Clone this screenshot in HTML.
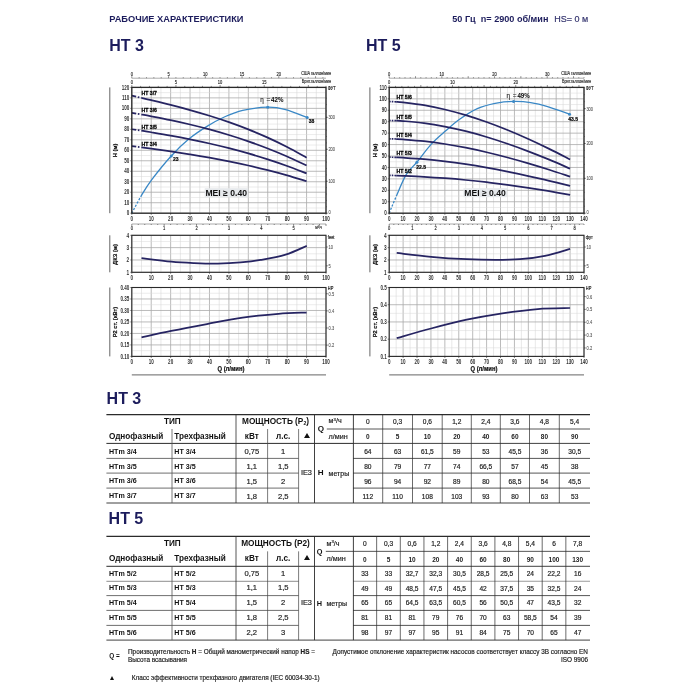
<!DOCTYPE html>
<html lang="ru"><head><meta charset="utf-8"><title>HT 3 / HT 5</title>
<style>
html,body{margin:0;padding:0;background:#fff;}
body{width:700px;height:700px;position:relative;overflow:hidden;font-family:'Liberation Sans', sans-serif;}
.t{position:absolute;white-space:nowrap;line-height:1;font-family:'Liberation Sans', sans-serif;}
.t sup{font-size:62%;vertical-align:baseline;position:relative;top:-0.62em;}
.t sub{font-size:62%;vertical-align:baseline;position:relative;top:0.2em;}
#pg{position:absolute;left:0;top:0;width:700px;height:700px;will-change:transform;filter:blur(0.4px);}
.l{position:absolute;}
.tri{position:absolute;width:0;height:0;border-left:3.0px solid transparent;border-right:3.0px solid transparent;border-bottom:5.8px solid #111;}
.tri.s{border-left-width:2.5px;border-right-width:2.5px;border-bottom-width:4.8px;}
svg{position:absolute;left:0;top:0;}
svg text{font-family:'Liberation Sans', sans-serif;}
</style></head><body><div id="pg">
<svg width="700" height="380" viewBox="0 0 700 380">
<rect x="131.8" y="87.4" width="194.2" height="125.8" fill="#fff"/>
<line x1="131.80" y1="87.40" x2="131.80" y2="213.20" stroke="#a9a9a9" stroke-width="0.8" />
<line x1="141.51" y1="87.40" x2="141.51" y2="213.20" stroke="#d8d8d8" stroke-width="0.6" />
<line x1="151.22" y1="87.40" x2="151.22" y2="213.20" stroke="#a9a9a9" stroke-width="0.8" />
<line x1="160.93" y1="87.40" x2="160.93" y2="213.20" stroke="#d8d8d8" stroke-width="0.6" />
<line x1="170.64" y1="87.40" x2="170.64" y2="213.20" stroke="#a9a9a9" stroke-width="0.8" />
<line x1="180.35" y1="87.40" x2="180.35" y2="213.20" stroke="#d8d8d8" stroke-width="0.6" />
<line x1="190.06" y1="87.40" x2="190.06" y2="213.20" stroke="#a9a9a9" stroke-width="0.8" />
<line x1="199.77" y1="87.40" x2="199.77" y2="213.20" stroke="#d8d8d8" stroke-width="0.6" />
<line x1="209.48" y1="87.40" x2="209.48" y2="213.20" stroke="#a9a9a9" stroke-width="0.8" />
<line x1="219.19" y1="87.40" x2="219.19" y2="213.20" stroke="#d8d8d8" stroke-width="0.6" />
<line x1="228.90" y1="87.40" x2="228.90" y2="213.20" stroke="#a9a9a9" stroke-width="0.8" />
<line x1="238.61" y1="87.40" x2="238.61" y2="213.20" stroke="#d8d8d8" stroke-width="0.6" />
<line x1="248.32" y1="87.40" x2="248.32" y2="213.20" stroke="#a9a9a9" stroke-width="0.8" />
<line x1="258.03" y1="87.40" x2="258.03" y2="213.20" stroke="#d8d8d8" stroke-width="0.6" />
<line x1="267.74" y1="87.40" x2="267.74" y2="213.20" stroke="#a9a9a9" stroke-width="0.8" />
<line x1="277.45" y1="87.40" x2="277.45" y2="213.20" stroke="#d8d8d8" stroke-width="0.6" />
<line x1="287.16" y1="87.40" x2="287.16" y2="213.20" stroke="#a9a9a9" stroke-width="0.8" />
<line x1="296.87" y1="87.40" x2="296.87" y2="213.20" stroke="#d8d8d8" stroke-width="0.6" />
<line x1="306.58" y1="87.40" x2="306.58" y2="213.20" stroke="#a9a9a9" stroke-width="0.8" />
<line x1="316.29" y1="87.40" x2="316.29" y2="213.20" stroke="#d8d8d8" stroke-width="0.6" />
<line x1="326.00" y1="87.40" x2="326.00" y2="213.20" stroke="#a9a9a9" stroke-width="0.8" />
<line x1="131.80" y1="213.20" x2="326.00" y2="213.20" stroke="#a9a9a9" stroke-width="0.8" />
<line x1="131.80" y1="207.96" x2="326.00" y2="207.96" stroke="#d8d8d8" stroke-width="0.5" />
<line x1="131.80" y1="202.72" x2="326.00" y2="202.72" stroke="#a9a9a9" stroke-width="0.8" />
<line x1="131.80" y1="197.47" x2="326.00" y2="197.47" stroke="#d8d8d8" stroke-width="0.5" />
<line x1="131.80" y1="192.23" x2="326.00" y2="192.23" stroke="#a9a9a9" stroke-width="0.8" />
<line x1="131.80" y1="186.99" x2="326.00" y2="186.99" stroke="#d8d8d8" stroke-width="0.5" />
<line x1="131.80" y1="181.75" x2="326.00" y2="181.75" stroke="#a9a9a9" stroke-width="0.8" />
<line x1="131.80" y1="176.51" x2="326.00" y2="176.51" stroke="#d8d8d8" stroke-width="0.5" />
<line x1="131.80" y1="171.27" x2="326.00" y2="171.27" stroke="#a9a9a9" stroke-width="0.8" />
<line x1="131.80" y1="166.02" x2="326.00" y2="166.02" stroke="#d8d8d8" stroke-width="0.5" />
<line x1="131.80" y1="160.78" x2="326.00" y2="160.78" stroke="#a9a9a9" stroke-width="0.8" />
<line x1="131.80" y1="155.54" x2="326.00" y2="155.54" stroke="#d8d8d8" stroke-width="0.5" />
<line x1="131.80" y1="150.30" x2="326.00" y2="150.30" stroke="#a9a9a9" stroke-width="0.8" />
<line x1="131.80" y1="145.06" x2="326.00" y2="145.06" stroke="#d8d8d8" stroke-width="0.5" />
<line x1="131.80" y1="139.82" x2="326.00" y2="139.82" stroke="#a9a9a9" stroke-width="0.8" />
<line x1="131.80" y1="134.57" x2="326.00" y2="134.57" stroke="#d8d8d8" stroke-width="0.5" />
<line x1="131.80" y1="129.33" x2="326.00" y2="129.33" stroke="#a9a9a9" stroke-width="0.8" />
<line x1="131.80" y1="124.09" x2="326.00" y2="124.09" stroke="#d8d8d8" stroke-width="0.5" />
<line x1="131.80" y1="118.85" x2="326.00" y2="118.85" stroke="#a9a9a9" stroke-width="0.8" />
<line x1="131.80" y1="113.61" x2="326.00" y2="113.61" stroke="#d8d8d8" stroke-width="0.5" />
<line x1="131.80" y1="108.37" x2="326.00" y2="108.37" stroke="#a9a9a9" stroke-width="0.8" />
<line x1="131.80" y1="103.12" x2="326.00" y2="103.12" stroke="#d8d8d8" stroke-width="0.5" />
<line x1="131.80" y1="97.88" x2="326.00" y2="97.88" stroke="#a9a9a9" stroke-width="0.8" />
<line x1="131.80" y1="92.64" x2="326.00" y2="92.64" stroke="#d8d8d8" stroke-width="0.5" />
<line x1="131.80" y1="87.40" x2="326.00" y2="87.40" stroke="#a9a9a9" stroke-width="0.8" />
<path d="M131.80,213.20 C133.42,210.23 138.21,200.93 141.51,195.38 C144.81,189.82 146.66,186.43 151.61,179.86 C156.56,173.29 164.98,162.79 171.22,155.96 C177.47,149.13 183.13,143.80 189.09,138.87 C195.04,133.95 201.00,130.08 206.96,126.40 C212.91,122.71 218.87,119.43 224.82,116.75 C230.78,114.08 235.54,111.95 242.69,110.36 C249.84,108.77 260.59,107.34 267.74,107.21 C274.89,107.09 279.04,107.91 285.61,109.62 C292.18,111.34 303.57,116.18 307.16,117.49" fill="none" stroke="#3a88c6" stroke-width="1.3" stroke-dasharray="2.2 1.5 2.2 1.5 2.2 1.5 2.2 1.5 2.2 1.5 2000" />
<path d="M131.80,146.06 C133.42,146.27 139.89,147.10 141.51,147.31" fill="none" stroke="#262462" stroke-width="1.7" stroke-dasharray="4.5 1.6 1.6 1.6"/>
<path d="M141.51,147.31 C143.13,147.53 146.37,147.93 151.22,148.60 C156.08,149.27 164.17,150.38 170.64,151.34 C177.11,152.30 183.59,153.29 190.06,154.34 C196.53,155.39 203.01,156.49 209.48,157.66 C215.95,158.84 222.43,160.06 228.90,161.37 C235.37,162.68 241.85,164.05 248.32,165.52 C254.79,166.99 261.27,168.53 267.74,170.18 C274.21,171.83 280.69,173.56 287.16,175.40 C293.63,177.25 303.34,180.28 306.58,181.26" fill="none" stroke="#262462" stroke-width="1.75"/>
<path d="M131.80,129.22 C133.42,129.46 139.89,130.46 141.51,130.70" fill="none" stroke="#262462" stroke-width="1.7" stroke-dasharray="4.5 1.6 1.6 1.6"/>
<path d="M141.51,130.70 C143.13,130.96 146.37,131.44 151.22,132.26 C156.08,133.08 164.17,134.43 170.64,135.61 C177.11,136.79 183.59,138.03 190.06,139.34 C196.53,140.66 203.01,142.04 209.48,143.51 C215.95,144.99 222.43,146.54 228.90,148.20 C235.37,149.86 241.85,151.60 248.32,153.46 C254.79,155.32 261.27,157.28 267.74,159.37 C274.21,161.45 280.69,163.65 287.16,165.99 C293.63,168.32 303.34,172.15 306.58,173.38" fill="none" stroke="#262462" stroke-width="1.75"/>
<path d="M131.80,112.84 C133.42,113.12 139.89,114.25 141.51,114.53" fill="none" stroke="#262462" stroke-width="1.7" stroke-dasharray="4.5 1.6 1.6 1.6"/>
<path d="M141.51,114.53 C143.13,114.82 146.37,115.37 151.22,116.31 C156.08,117.25 164.17,118.80 170.64,120.17 C177.11,121.54 183.59,122.98 190.06,124.52 C196.53,126.07 203.01,127.69 209.48,129.44 C215.95,131.19 222.43,133.03 228.90,135.01 C235.37,136.99 241.85,139.08 248.32,141.32 C254.79,143.56 261.27,145.93 267.74,148.46 C274.21,150.99 280.69,153.66 287.16,156.51 C293.63,159.36 303.34,164.06 306.58,165.56" fill="none" stroke="#262462" stroke-width="1.75"/>
<path d="M131.80,95.70 C133.42,96.07 139.89,97.56 141.51,97.93" fill="none" stroke="#262462" stroke-width="1.7" stroke-dasharray="4.5 1.6 1.6 1.6"/>
<path d="M141.51,97.93 C143.13,98.31 146.37,99.03 151.22,100.20 C156.08,101.37 164.17,103.30 170.64,104.95 C177.11,106.60 183.59,108.29 190.06,110.09 C196.53,111.90 203.01,113.77 209.48,115.78 C215.95,117.80 222.43,119.90 228.90,122.17 C235.37,124.44 241.85,126.83 248.32,129.41 C254.79,131.99 261.27,134.70 267.74,137.64 C274.21,140.58 280.69,143.68 287.16,147.02 C293.63,150.37 303.34,155.92 306.58,157.70" fill="none" stroke="#262462" stroke-width="1.75"/>
<rect x="131.80" y="87.40" width="194.20" height="125.80" fill="none" stroke="#2a2a2a" stroke-width="1.3"/>
<circle cx="171.22" cy="155.96" r="1.5" fill="#3a88c6"/>
<text transform="translate(173.02,161.36) scale(0.95,1)" font-size="5.3" text-anchor="start" font-weight="bold" fill="#000" stroke="#000" stroke-width="0.2" >23</text>
<circle cx="267.74" cy="107.21" r="1.5" fill="#3a88c6"/>
<circle cx="307.16" cy="117.49" r="1.5" fill="#3a88c6"/>
<text transform="translate(308.66,122.89) scale(0.95,1)" font-size="5.3" text-anchor="start" font-weight="bold" fill="#000" stroke="#000" stroke-width="0.2" >38</text>
<text transform="translate(141.50,145.51) scale(0.86,1)" font-size="6.0" text-anchor="start" font-weight="bold" fill="#000" stroke="#000" stroke-width="0.28" >HT 3/4</text>
<text transform="translate(141.50,128.73) scale(0.86,1)" font-size="6.0" text-anchor="start" font-weight="bold" fill="#000" stroke="#000" stroke-width="0.28" >HT 3/5</text>
<text transform="translate(141.50,111.96) scale(0.86,1)" font-size="6.0" text-anchor="start" font-weight="bold" fill="#000" stroke="#000" stroke-width="0.28" >HT 3/6</text>
<text transform="translate(141.50,95.19) scale(0.86,1)" font-size="6.0" text-anchor="start" font-weight="bold" fill="#000" stroke="#000" stroke-width="0.28" >HT 3/7</text>
<rect x="204.7" y="188.2" width="43.5" height="9" fill="#e6e9ec"/>
<text transform="translate(226.20,195.60) scale(1.0,1)" font-size="8.6" text-anchor="middle" font-weight="bold" fill="#111"  >MEI ≥ 0.40</text>
<text transform="translate(260.30,102.40) scale(0.9,1)" font-size="7.0" text-anchor="start" font-weight="normal" fill="#222" stroke="#222" stroke-width="0.12" >η</text>
<text transform="translate(266.50,102.10) scale(1.0,1)" font-size="6.6" text-anchor="start" font-weight="normal" fill="#222" stroke="#222" stroke-width="0.12" >=</text>
<text transform="translate(271.10,102.40) scale(0.88,1)" font-size="7.0" text-anchor="start" font-weight="bold" fill="#111" stroke="#111" stroke-width="0.05" >42%</text>
<text transform="translate(129.40,215.30) scale(0.7,1)" font-size="6.5" text-anchor="end" font-weight="bold" fill="#333"  >0</text>
<line x1="130.30" y1="213.20" x2="131.80" y2="213.20" stroke="#2a2a2a" stroke-width="0.6" />
<text transform="translate(129.40,204.82) scale(0.7,1)" font-size="6.5" text-anchor="end" font-weight="bold" fill="#333"  >10</text>
<line x1="130.30" y1="202.72" x2="131.80" y2="202.72" stroke="#2a2a2a" stroke-width="0.6" />
<text transform="translate(129.40,194.33) scale(0.7,1)" font-size="6.5" text-anchor="end" font-weight="bold" fill="#333"  >20</text>
<line x1="130.30" y1="192.23" x2="131.80" y2="192.23" stroke="#2a2a2a" stroke-width="0.6" />
<text transform="translate(129.40,183.85) scale(0.7,1)" font-size="6.5" text-anchor="end" font-weight="bold" fill="#333"  >30</text>
<line x1="130.30" y1="181.75" x2="131.80" y2="181.75" stroke="#2a2a2a" stroke-width="0.6" />
<text transform="translate(129.40,173.37) scale(0.7,1)" font-size="6.5" text-anchor="end" font-weight="bold" fill="#333"  >40</text>
<line x1="130.30" y1="171.27" x2="131.80" y2="171.27" stroke="#2a2a2a" stroke-width="0.6" />
<text transform="translate(129.40,162.88) scale(0.7,1)" font-size="6.5" text-anchor="end" font-weight="bold" fill="#333"  >50</text>
<line x1="130.30" y1="160.78" x2="131.80" y2="160.78" stroke="#2a2a2a" stroke-width="0.6" />
<text transform="translate(129.40,152.40) scale(0.7,1)" font-size="6.5" text-anchor="end" font-weight="bold" fill="#333"  >60</text>
<line x1="130.30" y1="150.30" x2="131.80" y2="150.30" stroke="#2a2a2a" stroke-width="0.6" />
<text transform="translate(129.40,141.92) scale(0.7,1)" font-size="6.5" text-anchor="end" font-weight="bold" fill="#333"  >70</text>
<line x1="130.30" y1="139.82" x2="131.80" y2="139.82" stroke="#2a2a2a" stroke-width="0.6" />
<text transform="translate(129.40,131.43) scale(0.7,1)" font-size="6.5" text-anchor="end" font-weight="bold" fill="#333"  >80</text>
<line x1="130.30" y1="129.33" x2="131.80" y2="129.33" stroke="#2a2a2a" stroke-width="0.6" />
<text transform="translate(129.40,120.95) scale(0.7,1)" font-size="6.5" text-anchor="end" font-weight="bold" fill="#333"  >90</text>
<line x1="130.30" y1="118.85" x2="131.80" y2="118.85" stroke="#2a2a2a" stroke-width="0.6" />
<text transform="translate(129.40,110.47) scale(0.7,1)" font-size="6.5" text-anchor="end" font-weight="bold" fill="#333"  >100</text>
<line x1="130.30" y1="108.37" x2="131.80" y2="108.37" stroke="#2a2a2a" stroke-width="0.6" />
<text transform="translate(129.40,99.98) scale(0.7,1)" font-size="6.5" text-anchor="end" font-weight="bold" fill="#333"  >110</text>
<line x1="130.30" y1="97.88" x2="131.80" y2="97.88" stroke="#2a2a2a" stroke-width="0.6" />
<text transform="translate(129.40,89.50) scale(0.7,1)" font-size="6.5" text-anchor="end" font-weight="bold" fill="#333"  >120</text>
<line x1="130.30" y1="87.40" x2="131.80" y2="87.40" stroke="#2a2a2a" stroke-width="0.6" />
<text transform="translate(131.80,220.70) scale(0.7,1)" font-size="6.5" text-anchor="middle" font-weight="bold" fill="#333"  >0</text>
<line x1="131.80" y1="213.20" x2="131.80" y2="214.80" stroke="#2a2a2a" stroke-width="0.6" />
<text transform="translate(151.22,220.70) scale(0.7,1)" font-size="6.5" text-anchor="middle" font-weight="bold" fill="#333"  >10</text>
<line x1="151.22" y1="213.20" x2="151.22" y2="214.80" stroke="#2a2a2a" stroke-width="0.6" />
<text transform="translate(170.64,220.70) scale(0.7,1)" font-size="6.5" text-anchor="middle" font-weight="bold" fill="#333"  >20</text>
<line x1="170.64" y1="213.20" x2="170.64" y2="214.80" stroke="#2a2a2a" stroke-width="0.6" />
<text transform="translate(190.06,220.70) scale(0.7,1)" font-size="6.5" text-anchor="middle" font-weight="bold" fill="#333"  >30</text>
<line x1="190.06" y1="213.20" x2="190.06" y2="214.80" stroke="#2a2a2a" stroke-width="0.6" />
<text transform="translate(209.48,220.70) scale(0.7,1)" font-size="6.5" text-anchor="middle" font-weight="bold" fill="#333"  >40</text>
<line x1="209.48" y1="213.20" x2="209.48" y2="214.80" stroke="#2a2a2a" stroke-width="0.6" />
<text transform="translate(228.90,220.70) scale(0.7,1)" font-size="6.5" text-anchor="middle" font-weight="bold" fill="#333"  >50</text>
<line x1="228.90" y1="213.20" x2="228.90" y2="214.80" stroke="#2a2a2a" stroke-width="0.6" />
<text transform="translate(248.32,220.70) scale(0.7,1)" font-size="6.5" text-anchor="middle" font-weight="bold" fill="#333"  >60</text>
<line x1="248.32" y1="213.20" x2="248.32" y2="214.80" stroke="#2a2a2a" stroke-width="0.6" />
<text transform="translate(267.74,220.70) scale(0.7,1)" font-size="6.5" text-anchor="middle" font-weight="bold" fill="#333"  >70</text>
<line x1="267.74" y1="213.20" x2="267.74" y2="214.80" stroke="#2a2a2a" stroke-width="0.6" />
<text transform="translate(287.16,220.70) scale(0.7,1)" font-size="6.5" text-anchor="middle" font-weight="bold" fill="#333"  >80</text>
<line x1="287.16" y1="213.20" x2="287.16" y2="214.80" stroke="#2a2a2a" stroke-width="0.6" />
<text transform="translate(306.58,220.70) scale(0.7,1)" font-size="6.5" text-anchor="middle" font-weight="bold" fill="#333"  >90</text>
<line x1="306.58" y1="213.20" x2="306.58" y2="214.80" stroke="#2a2a2a" stroke-width="0.6" />
<text transform="translate(326.00,220.70) scale(0.7,1)" font-size="6.5" text-anchor="middle" font-weight="bold" fill="#333"  >100</text>
<line x1="326.00" y1="213.20" x2="326.00" y2="214.80" stroke="#2a2a2a" stroke-width="0.6" />
<line x1="326.00" y1="213.20" x2="327.80" y2="213.20" stroke="#2a2a2a" stroke-width="0.6" />
<text transform="translate(328.40,213.80) scale(0.7,1)" font-size="5.7" text-anchor="start" font-weight="normal" fill="#555" stroke="#555" stroke-width="0.1" >0</text>
<line x1="326.00" y1="181.25" x2="327.80" y2="181.25" stroke="#2a2a2a" stroke-width="0.6" />
<text transform="translate(328.40,183.25) scale(0.7,1)" font-size="5.7" text-anchor="start" font-weight="normal" fill="#555" stroke="#555" stroke-width="0.1" >100</text>
<line x1="326.00" y1="149.29" x2="327.80" y2="149.29" stroke="#2a2a2a" stroke-width="0.6" />
<text transform="translate(328.40,151.29) scale(0.7,1)" font-size="5.7" text-anchor="start" font-weight="normal" fill="#555" stroke="#555" stroke-width="0.1" >200</text>
<line x1="326.00" y1="117.34" x2="327.80" y2="117.34" stroke="#2a2a2a" stroke-width="0.6" />
<text transform="translate(328.40,119.34) scale(0.7,1)" font-size="5.7" text-anchor="start" font-weight="normal" fill="#555" stroke="#555" stroke-width="0.1" >300</text>
<line x1="326.00" y1="213.20" x2="327.00" y2="213.20" stroke="#2a2a2a" stroke-width="0.4" />
<line x1="326.00" y1="206.81" x2="327.00" y2="206.81" stroke="#2a2a2a" stroke-width="0.4" />
<line x1="326.00" y1="200.42" x2="327.00" y2="200.42" stroke="#2a2a2a" stroke-width="0.4" />
<line x1="326.00" y1="194.03" x2="327.00" y2="194.03" stroke="#2a2a2a" stroke-width="0.4" />
<line x1="326.00" y1="187.64" x2="327.00" y2="187.64" stroke="#2a2a2a" stroke-width="0.4" />
<line x1="326.00" y1="181.25" x2="327.00" y2="181.25" stroke="#2a2a2a" stroke-width="0.4" />
<line x1="326.00" y1="174.86" x2="327.00" y2="174.86" stroke="#2a2a2a" stroke-width="0.4" />
<line x1="326.00" y1="168.47" x2="327.00" y2="168.47" stroke="#2a2a2a" stroke-width="0.4" />
<line x1="326.00" y1="162.07" x2="327.00" y2="162.07" stroke="#2a2a2a" stroke-width="0.4" />
<line x1="326.00" y1="155.68" x2="327.00" y2="155.68" stroke="#2a2a2a" stroke-width="0.4" />
<line x1="326.00" y1="149.29" x2="327.00" y2="149.29" stroke="#2a2a2a" stroke-width="0.4" />
<line x1="326.00" y1="142.90" x2="327.00" y2="142.90" stroke="#2a2a2a" stroke-width="0.4" />
<line x1="326.00" y1="136.51" x2="327.00" y2="136.51" stroke="#2a2a2a" stroke-width="0.4" />
<line x1="326.00" y1="130.12" x2="327.00" y2="130.12" stroke="#2a2a2a" stroke-width="0.4" />
<line x1="326.00" y1="123.73" x2="327.00" y2="123.73" stroke="#2a2a2a" stroke-width="0.4" />
<line x1="326.00" y1="117.34" x2="327.00" y2="117.34" stroke="#2a2a2a" stroke-width="0.4" />
<line x1="326.00" y1="110.95" x2="327.00" y2="110.95" stroke="#2a2a2a" stroke-width="0.4" />
<line x1="326.00" y1="104.56" x2="327.00" y2="104.56" stroke="#2a2a2a" stroke-width="0.4" />
<line x1="326.00" y1="98.17" x2="327.00" y2="98.17" stroke="#2a2a2a" stroke-width="0.4" />
<text transform="translate(327.80,89.80) scale(0.8,1)" font-size="5.0" text-anchor="start" font-weight="normal" fill="#222" stroke="#222" stroke-width="0.18" >ФУТ</text>
<line x1="131.80" y1="78.20" x2="326.00" y2="78.20" stroke="#555" stroke-width="0.5" />
<line x1="131.80" y1="76.20" x2="131.80" y2="78.20" stroke="#333" stroke-width="0.55" />
<line x1="139.15" y1="77.20" x2="139.15" y2="78.20" stroke="#333" stroke-width="0.55" />
<line x1="146.50" y1="77.20" x2="146.50" y2="78.20" stroke="#333" stroke-width="0.55" />
<line x1="153.85" y1="77.20" x2="153.85" y2="78.20" stroke="#333" stroke-width="0.55" />
<line x1="161.20" y1="77.20" x2="161.20" y2="78.20" stroke="#333" stroke-width="0.55" />
<line x1="168.55" y1="76.20" x2="168.55" y2="78.20" stroke="#333" stroke-width="0.55" />
<line x1="175.90" y1="77.20" x2="175.90" y2="78.20" stroke="#333" stroke-width="0.55" />
<line x1="183.25" y1="77.20" x2="183.25" y2="78.20" stroke="#333" stroke-width="0.55" />
<line x1="190.60" y1="77.20" x2="190.60" y2="78.20" stroke="#333" stroke-width="0.55" />
<line x1="197.95" y1="77.20" x2="197.95" y2="78.20" stroke="#333" stroke-width="0.55" />
<line x1="205.30" y1="76.20" x2="205.30" y2="78.20" stroke="#333" stroke-width="0.55" />
<line x1="212.66" y1="77.20" x2="212.66" y2="78.20" stroke="#333" stroke-width="0.55" />
<line x1="220.01" y1="77.20" x2="220.01" y2="78.20" stroke="#333" stroke-width="0.55" />
<line x1="227.36" y1="77.20" x2="227.36" y2="78.20" stroke="#333" stroke-width="0.55" />
<line x1="234.71" y1="77.20" x2="234.71" y2="78.20" stroke="#333" stroke-width="0.55" />
<line x1="242.06" y1="76.20" x2="242.06" y2="78.20" stroke="#333" stroke-width="0.55" />
<line x1="249.41" y1="77.20" x2="249.41" y2="78.20" stroke="#333" stroke-width="0.55" />
<line x1="256.76" y1="77.20" x2="256.76" y2="78.20" stroke="#333" stroke-width="0.55" />
<line x1="264.11" y1="77.20" x2="264.11" y2="78.20" stroke="#333" stroke-width="0.55" />
<line x1="271.46" y1="77.20" x2="271.46" y2="78.20" stroke="#333" stroke-width="0.55" />
<line x1="278.81" y1="76.20" x2="278.81" y2="78.20" stroke="#333" stroke-width="0.55" />
<line x1="286.16" y1="77.20" x2="286.16" y2="78.20" stroke="#333" stroke-width="0.55" />
<line x1="293.51" y1="77.20" x2="293.51" y2="78.20" stroke="#333" stroke-width="0.55" />
<line x1="300.86" y1="77.20" x2="300.86" y2="78.20" stroke="#333" stroke-width="0.55" />
<line x1="308.21" y1="77.20" x2="308.21" y2="78.20" stroke="#333" stroke-width="0.55" />
<line x1="315.56" y1="76.20" x2="315.56" y2="78.20" stroke="#333" stroke-width="0.55" />
<line x1="322.91" y1="77.20" x2="322.91" y2="78.20" stroke="#333" stroke-width="0.55" />
<text transform="translate(131.80,75.80) scale(0.7,1)" font-size="5.8" text-anchor="middle" font-weight="normal" fill="#222" stroke="#222" stroke-width="0.15" >0</text>
<text transform="translate(168.55,75.80) scale(0.7,1)" font-size="5.8" text-anchor="middle" font-weight="normal" fill="#222" stroke="#222" stroke-width="0.15" >5</text>
<text transform="translate(205.30,75.80) scale(0.7,1)" font-size="5.8" text-anchor="middle" font-weight="normal" fill="#222" stroke="#222" stroke-width="0.15" >10</text>
<text transform="translate(242.06,75.80) scale(0.7,1)" font-size="5.8" text-anchor="middle" font-weight="normal" fill="#222" stroke="#222" stroke-width="0.15" >15</text>
<text transform="translate(278.81,75.80) scale(0.7,1)" font-size="5.8" text-anchor="middle" font-weight="normal" fill="#222" stroke="#222" stroke-width="0.15" >20</text>
<line x1="131.80" y1="85.00" x2="131.80" y2="87.20" stroke="#333" stroke-width="0.55" />
<line x1="140.63" y1="85.90" x2="140.63" y2="87.20" stroke="#333" stroke-width="0.55" />
<line x1="149.46" y1="85.90" x2="149.46" y2="87.20" stroke="#333" stroke-width="0.55" />
<line x1="158.28" y1="85.90" x2="158.28" y2="87.20" stroke="#333" stroke-width="0.55" />
<line x1="167.11" y1="85.90" x2="167.11" y2="87.20" stroke="#333" stroke-width="0.55" />
<line x1="175.94" y1="85.00" x2="175.94" y2="87.20" stroke="#333" stroke-width="0.55" />
<line x1="184.77" y1="85.90" x2="184.77" y2="87.20" stroke="#333" stroke-width="0.55" />
<line x1="193.60" y1="85.90" x2="193.60" y2="87.20" stroke="#333" stroke-width="0.55" />
<line x1="202.43" y1="85.90" x2="202.43" y2="87.20" stroke="#333" stroke-width="0.55" />
<line x1="211.25" y1="85.90" x2="211.25" y2="87.20" stroke="#333" stroke-width="0.55" />
<line x1="220.08" y1="85.00" x2="220.08" y2="87.20" stroke="#333" stroke-width="0.55" />
<line x1="228.91" y1="85.90" x2="228.91" y2="87.20" stroke="#333" stroke-width="0.55" />
<line x1="237.74" y1="85.90" x2="237.74" y2="87.20" stroke="#333" stroke-width="0.55" />
<line x1="246.57" y1="85.90" x2="246.57" y2="87.20" stroke="#333" stroke-width="0.55" />
<line x1="255.40" y1="85.90" x2="255.40" y2="87.20" stroke="#333" stroke-width="0.55" />
<line x1="264.22" y1="85.00" x2="264.22" y2="87.20" stroke="#333" stroke-width="0.55" />
<line x1="273.05" y1="85.90" x2="273.05" y2="87.20" stroke="#333" stroke-width="0.55" />
<line x1="281.88" y1="85.90" x2="281.88" y2="87.20" stroke="#333" stroke-width="0.55" />
<line x1="290.71" y1="85.90" x2="290.71" y2="87.20" stroke="#333" stroke-width="0.55" />
<line x1="299.54" y1="85.90" x2="299.54" y2="87.20" stroke="#333" stroke-width="0.55" />
<line x1="308.37" y1="85.00" x2="308.37" y2="87.20" stroke="#333" stroke-width="0.55" />
<line x1="317.19" y1="85.90" x2="317.19" y2="87.20" stroke="#333" stroke-width="0.55" />
<line x1="326.02" y1="85.90" x2="326.02" y2="87.20" stroke="#333" stroke-width="0.55" />
<text transform="translate(131.80,84.30) scale(0.7,1)" font-size="5.8" text-anchor="middle" font-weight="normal" fill="#222" stroke="#222" stroke-width="0.15" >0</text>
<text transform="translate(175.94,84.30) scale(0.7,1)" font-size="5.8" text-anchor="middle" font-weight="normal" fill="#222" stroke="#222" stroke-width="0.15" >5</text>
<text transform="translate(220.08,84.30) scale(0.7,1)" font-size="5.8" text-anchor="middle" font-weight="normal" fill="#222" stroke="#222" stroke-width="0.15" >10</text>
<text transform="translate(264.22,84.30) scale(0.7,1)" font-size="5.8" text-anchor="middle" font-weight="normal" fill="#222" stroke="#222" stroke-width="0.15" >15</text>
<text transform="translate(331.00,74.50) scale(0.78,1)" font-size="4.9" text-anchor="end" font-weight="normal" fill="#333" stroke="#333" stroke-width="0.18" >США галлон/мин</text>
<text transform="translate(331.00,83.00) scale(0.78,1)" font-size="4.9" text-anchor="end" font-weight="normal" fill="#333" stroke="#333" stroke-width="0.18" >Брит.галлон/мин</text>
<line x1="131.80" y1="224.00" x2="326.00" y2="224.00" stroke="#555" stroke-width="0.5" />
<line x1="131.80" y1="224.00" x2="131.80" y2="226.00" stroke="#333" stroke-width="0.55" />
<line x1="138.27" y1="224.00" x2="138.27" y2="225.00" stroke="#333" stroke-width="0.55" />
<line x1="144.75" y1="224.00" x2="144.75" y2="225.00" stroke="#333" stroke-width="0.55" />
<line x1="151.22" y1="224.00" x2="151.22" y2="225.00" stroke="#333" stroke-width="0.55" />
<line x1="157.69" y1="224.00" x2="157.69" y2="225.00" stroke="#333" stroke-width="0.55" />
<line x1="164.17" y1="224.00" x2="164.17" y2="226.00" stroke="#333" stroke-width="0.55" />
<line x1="170.64" y1="224.00" x2="170.64" y2="225.00" stroke="#333" stroke-width="0.55" />
<line x1="177.11" y1="224.00" x2="177.11" y2="225.00" stroke="#333" stroke-width="0.55" />
<line x1="183.59" y1="224.00" x2="183.59" y2="225.00" stroke="#333" stroke-width="0.55" />
<line x1="190.06" y1="224.00" x2="190.06" y2="225.00" stroke="#333" stroke-width="0.55" />
<line x1="196.53" y1="224.00" x2="196.53" y2="226.00" stroke="#333" stroke-width="0.55" />
<line x1="203.01" y1="224.00" x2="203.01" y2="225.00" stroke="#333" stroke-width="0.55" />
<line x1="209.48" y1="224.00" x2="209.48" y2="225.00" stroke="#333" stroke-width="0.55" />
<line x1="215.96" y1="224.00" x2="215.96" y2="225.00" stroke="#333" stroke-width="0.55" />
<line x1="222.43" y1="224.00" x2="222.43" y2="225.00" stroke="#333" stroke-width="0.55" />
<line x1="228.90" y1="224.00" x2="228.90" y2="226.00" stroke="#333" stroke-width="0.55" />
<line x1="235.38" y1="224.00" x2="235.38" y2="225.00" stroke="#333" stroke-width="0.55" />
<line x1="241.85" y1="224.00" x2="241.85" y2="225.00" stroke="#333" stroke-width="0.55" />
<line x1="248.32" y1="224.00" x2="248.32" y2="225.00" stroke="#333" stroke-width="0.55" />
<line x1="254.80" y1="224.00" x2="254.80" y2="225.00" stroke="#333" stroke-width="0.55" />
<line x1="261.27" y1="224.00" x2="261.27" y2="226.00" stroke="#333" stroke-width="0.55" />
<line x1="267.74" y1="224.00" x2="267.74" y2="225.00" stroke="#333" stroke-width="0.55" />
<line x1="274.22" y1="224.00" x2="274.22" y2="225.00" stroke="#333" stroke-width="0.55" />
<line x1="280.69" y1="224.00" x2="280.69" y2="225.00" stroke="#333" stroke-width="0.55" />
<line x1="287.16" y1="224.00" x2="287.16" y2="225.00" stroke="#333" stroke-width="0.55" />
<line x1="293.64" y1="224.00" x2="293.64" y2="226.00" stroke="#333" stroke-width="0.55" />
<line x1="300.11" y1="224.00" x2="300.11" y2="225.00" stroke="#333" stroke-width="0.55" />
<line x1="306.58" y1="224.00" x2="306.58" y2="225.00" stroke="#333" stroke-width="0.55" />
<line x1="313.06" y1="224.00" x2="313.06" y2="225.00" stroke="#333" stroke-width="0.55" />
<line x1="319.53" y1="224.00" x2="319.53" y2="225.00" stroke="#333" stroke-width="0.55" />
<line x1="326.00" y1="224.00" x2="326.00" y2="226.00" stroke="#333" stroke-width="0.55" />
<text transform="translate(131.80,230.00) scale(0.7,1)" font-size="5.8" text-anchor="middle" font-weight="normal" fill="#222" stroke="#222" stroke-width="0.15" >0</text>
<text transform="translate(164.17,230.00) scale(0.7,1)" font-size="5.8" text-anchor="middle" font-weight="normal" fill="#222" stroke="#222" stroke-width="0.15" >1</text>
<text transform="translate(196.53,230.00) scale(0.7,1)" font-size="5.8" text-anchor="middle" font-weight="normal" fill="#222" stroke="#222" stroke-width="0.15" >2</text>
<text transform="translate(228.90,230.00) scale(0.7,1)" font-size="5.8" text-anchor="middle" font-weight="normal" fill="#222" stroke="#222" stroke-width="0.15" >3</text>
<text transform="translate(261.27,230.00) scale(0.7,1)" font-size="5.8" text-anchor="middle" font-weight="normal" fill="#222" stroke="#222" stroke-width="0.15" >4</text>
<text transform="translate(293.64,230.00) scale(0.7,1)" font-size="5.8" text-anchor="middle" font-weight="normal" fill="#222" stroke="#222" stroke-width="0.15" >5</text>
<text transform="translate(322.00,229.20) scale(0.8,1)" font-size="4.6" text-anchor="end" font-weight="normal" fill="#333" stroke="#333" stroke-width="0.18" >м³/ч</text>
<line x1="109.80" y1="87.40" x2="109.80" y2="213.20" stroke="#333" stroke-width="0.75" />
<text transform="translate(117.00,150.4) rotate(-90) scale(0.93,1)" font-size="6.1" text-anchor="middle" font-weight="bold" fill="#111" stroke="#111" stroke-width="0.2">H (м)</text>
<rect x="131.8" y="235.3" width="194.2" height="37" fill="#fff"/>
<line x1="131.80" y1="235.30" x2="131.80" y2="272.30" stroke="#a9a9a9" stroke-width="0.8" />
<line x1="141.51" y1="235.30" x2="141.51" y2="272.30" stroke="#d8d8d8" stroke-width="0.6" />
<line x1="151.22" y1="235.30" x2="151.22" y2="272.30" stroke="#a9a9a9" stroke-width="0.8" />
<line x1="160.93" y1="235.30" x2="160.93" y2="272.30" stroke="#d8d8d8" stroke-width="0.6" />
<line x1="170.64" y1="235.30" x2="170.64" y2="272.30" stroke="#a9a9a9" stroke-width="0.8" />
<line x1="180.35" y1="235.30" x2="180.35" y2="272.30" stroke="#d8d8d8" stroke-width="0.6" />
<line x1="190.06" y1="235.30" x2="190.06" y2="272.30" stroke="#a9a9a9" stroke-width="0.8" />
<line x1="199.77" y1="235.30" x2="199.77" y2="272.30" stroke="#d8d8d8" stroke-width="0.6" />
<line x1="209.48" y1="235.30" x2="209.48" y2="272.30" stroke="#a9a9a9" stroke-width="0.8" />
<line x1="219.19" y1="235.30" x2="219.19" y2="272.30" stroke="#d8d8d8" stroke-width="0.6" />
<line x1="228.90" y1="235.30" x2="228.90" y2="272.30" stroke="#a9a9a9" stroke-width="0.8" />
<line x1="238.61" y1="235.30" x2="238.61" y2="272.30" stroke="#d8d8d8" stroke-width="0.6" />
<line x1="248.32" y1="235.30" x2="248.32" y2="272.30" stroke="#a9a9a9" stroke-width="0.8" />
<line x1="258.03" y1="235.30" x2="258.03" y2="272.30" stroke="#d8d8d8" stroke-width="0.6" />
<line x1="267.74" y1="235.30" x2="267.74" y2="272.30" stroke="#a9a9a9" stroke-width="0.8" />
<line x1="277.45" y1="235.30" x2="277.45" y2="272.30" stroke="#d8d8d8" stroke-width="0.6" />
<line x1="287.16" y1="235.30" x2="287.16" y2="272.30" stroke="#a9a9a9" stroke-width="0.8" />
<line x1="296.87" y1="235.30" x2="296.87" y2="272.30" stroke="#d8d8d8" stroke-width="0.6" />
<line x1="306.58" y1="235.30" x2="306.58" y2="272.30" stroke="#a9a9a9" stroke-width="0.8" />
<line x1="316.29" y1="235.30" x2="316.29" y2="272.30" stroke="#d8d8d8" stroke-width="0.6" />
<line x1="326.00" y1="235.30" x2="326.00" y2="272.30" stroke="#a9a9a9" stroke-width="0.8" />
<line x1="131.80" y1="272.30" x2="326.00" y2="272.30" stroke="#a9a9a9" stroke-width="0.8" />
<line x1="131.80" y1="266.13" x2="326.00" y2="266.13" stroke="#d8d8d8" stroke-width="0.5" />
<line x1="131.80" y1="259.97" x2="326.00" y2="259.97" stroke="#a9a9a9" stroke-width="0.8" />
<line x1="131.80" y1="253.80" x2="326.00" y2="253.80" stroke="#d8d8d8" stroke-width="0.5" />
<line x1="131.80" y1="247.63" x2="326.00" y2="247.63" stroke="#a9a9a9" stroke-width="0.8" />
<line x1="131.80" y1="241.47" x2="326.00" y2="241.47" stroke="#d8d8d8" stroke-width="0.5" />
<line x1="131.80" y1="235.30" x2="326.00" y2="235.30" stroke="#a9a9a9" stroke-width="0.8" />
<path d="M141.51,258.24 C146.46,258.82 162.48,260.89 171.22,261.69 C179.96,262.50 186.18,262.74 193.94,263.05 C201.71,263.36 210.06,263.65 217.83,263.54 C225.60,263.44 233.43,263.03 240.55,262.43 C247.67,261.84 253.05,261.26 260.55,259.97 C268.06,258.67 277.90,257.01 285.61,254.66 C293.31,252.32 303.25,247.37 306.77,245.91" fill="none" stroke="#262462" stroke-width="1.75"/>
<rect x="131.80" y="235.30" width="194.20" height="37.00" fill="none" stroke="#2a2a2a" stroke-width="1.1"/>
<text transform="translate(129.20,274.60) scale(0.7,1)" font-size="6.8" text-anchor="end" font-weight="bold" fill="#333"  >1</text>
<line x1="130.30" y1="272.30" x2="131.80" y2="272.30" stroke="#2a2a2a" stroke-width="0.6" />
<text transform="translate(129.20,262.27) scale(0.7,1)" font-size="6.8" text-anchor="end" font-weight="bold" fill="#333"  >2</text>
<line x1="130.30" y1="259.97" x2="131.80" y2="259.97" stroke="#2a2a2a" stroke-width="0.6" />
<text transform="translate(129.20,249.93) scale(0.7,1)" font-size="6.8" text-anchor="end" font-weight="bold" fill="#333"  >3</text>
<line x1="130.30" y1="247.63" x2="131.80" y2="247.63" stroke="#2a2a2a" stroke-width="0.6" />
<text transform="translate(129.20,237.60) scale(0.7,1)" font-size="6.8" text-anchor="end" font-weight="bold" fill="#333"  >4</text>
<line x1="130.30" y1="235.30" x2="131.80" y2="235.30" stroke="#2a2a2a" stroke-width="0.6" />
<text transform="translate(131.80,280.20) scale(0.7,1)" font-size="6.5" text-anchor="middle" font-weight="bold" fill="#333"  >0</text>
<line x1="131.80" y1="272.30" x2="131.80" y2="273.80" stroke="#2a2a2a" stroke-width="0.6" />
<text transform="translate(151.22,280.20) scale(0.7,1)" font-size="6.5" text-anchor="middle" font-weight="bold" fill="#333"  >10</text>
<line x1="151.22" y1="272.30" x2="151.22" y2="273.80" stroke="#2a2a2a" stroke-width="0.6" />
<text transform="translate(170.64,280.20) scale(0.7,1)" font-size="6.5" text-anchor="middle" font-weight="bold" fill="#333"  >20</text>
<line x1="170.64" y1="272.30" x2="170.64" y2="273.80" stroke="#2a2a2a" stroke-width="0.6" />
<text transform="translate(190.06,280.20) scale(0.7,1)" font-size="6.5" text-anchor="middle" font-weight="bold" fill="#333"  >30</text>
<line x1="190.06" y1="272.30" x2="190.06" y2="273.80" stroke="#2a2a2a" stroke-width="0.6" />
<text transform="translate(209.48,280.20) scale(0.7,1)" font-size="6.5" text-anchor="middle" font-weight="bold" fill="#333"  >40</text>
<line x1="209.48" y1="272.30" x2="209.48" y2="273.80" stroke="#2a2a2a" stroke-width="0.6" />
<text transform="translate(228.90,280.20) scale(0.7,1)" font-size="6.5" text-anchor="middle" font-weight="bold" fill="#333"  >50</text>
<line x1="228.90" y1="272.30" x2="228.90" y2="273.80" stroke="#2a2a2a" stroke-width="0.6" />
<text transform="translate(248.32,280.20) scale(0.7,1)" font-size="6.5" text-anchor="middle" font-weight="bold" fill="#333"  >60</text>
<line x1="248.32" y1="272.30" x2="248.32" y2="273.80" stroke="#2a2a2a" stroke-width="0.6" />
<text transform="translate(267.74,280.20) scale(0.7,1)" font-size="6.5" text-anchor="middle" font-weight="bold" fill="#333"  >70</text>
<line x1="267.74" y1="272.30" x2="267.74" y2="273.80" stroke="#2a2a2a" stroke-width="0.6" />
<text transform="translate(287.16,280.20) scale(0.7,1)" font-size="6.5" text-anchor="middle" font-weight="bold" fill="#333"  >80</text>
<line x1="287.16" y1="272.30" x2="287.16" y2="273.80" stroke="#2a2a2a" stroke-width="0.6" />
<text transform="translate(306.58,280.20) scale(0.7,1)" font-size="6.5" text-anchor="middle" font-weight="bold" fill="#333"  >90</text>
<line x1="306.58" y1="272.30" x2="306.58" y2="273.80" stroke="#2a2a2a" stroke-width="0.6" />
<text transform="translate(326.00,280.20) scale(0.7,1)" font-size="6.5" text-anchor="middle" font-weight="bold" fill="#333"  >100</text>
<line x1="326.00" y1="272.30" x2="326.00" y2="273.80" stroke="#2a2a2a" stroke-width="0.6" />
<line x1="326.00" y1="265.84" x2="327.80" y2="265.84" stroke="#2a2a2a" stroke-width="0.6" />
<text transform="translate(328.60,267.84) scale(0.7,1)" font-size="5.7" text-anchor="start" font-weight="normal" fill="#555" stroke="#555" stroke-width="0.1" >5</text>
<line x1="326.00" y1="247.04" x2="327.80" y2="247.04" stroke="#2a2a2a" stroke-width="0.6" />
<text transform="translate(328.60,249.04) scale(0.7,1)" font-size="5.7" text-anchor="start" font-weight="normal" fill="#555" stroke="#555" stroke-width="0.1" >10</text>
<text transform="translate(327.80,238.60) scale(0.8,1)" font-size="5.0" text-anchor="start" font-weight="normal" fill="#222" stroke="#222" stroke-width="0.18" >feet</text>
<line x1="109.80" y1="235.30" x2="109.80" y2="272.30" stroke="#333" stroke-width="0.75" />
<text transform="translate(117.00,254.5) rotate(-90) scale(0.93,1)" font-size="6.1" text-anchor="middle" font-weight="bold" fill="#111" stroke="#111" stroke-width="0.2">ДКЗ (м)</text>
<rect x="131.8" y="287.5" width="194.2" height="68.9" fill="#fff"/>
<line x1="131.80" y1="287.50" x2="131.80" y2="356.40" stroke="#a9a9a9" stroke-width="0.8" />
<line x1="141.51" y1="287.50" x2="141.51" y2="356.40" stroke="#d8d8d8" stroke-width="0.6" />
<line x1="151.22" y1="287.50" x2="151.22" y2="356.40" stroke="#a9a9a9" stroke-width="0.8" />
<line x1="160.93" y1="287.50" x2="160.93" y2="356.40" stroke="#d8d8d8" stroke-width="0.6" />
<line x1="170.64" y1="287.50" x2="170.64" y2="356.40" stroke="#a9a9a9" stroke-width="0.8" />
<line x1="180.35" y1="287.50" x2="180.35" y2="356.40" stroke="#d8d8d8" stroke-width="0.6" />
<line x1="190.06" y1="287.50" x2="190.06" y2="356.40" stroke="#a9a9a9" stroke-width="0.8" />
<line x1="199.77" y1="287.50" x2="199.77" y2="356.40" stroke="#d8d8d8" stroke-width="0.6" />
<line x1="209.48" y1="287.50" x2="209.48" y2="356.40" stroke="#a9a9a9" stroke-width="0.8" />
<line x1="219.19" y1="287.50" x2="219.19" y2="356.40" stroke="#d8d8d8" stroke-width="0.6" />
<line x1="228.90" y1="287.50" x2="228.90" y2="356.40" stroke="#a9a9a9" stroke-width="0.8" />
<line x1="238.61" y1="287.50" x2="238.61" y2="356.40" stroke="#d8d8d8" stroke-width="0.6" />
<line x1="248.32" y1="287.50" x2="248.32" y2="356.40" stroke="#a9a9a9" stroke-width="0.8" />
<line x1="258.03" y1="287.50" x2="258.03" y2="356.40" stroke="#d8d8d8" stroke-width="0.6" />
<line x1="267.74" y1="287.50" x2="267.74" y2="356.40" stroke="#a9a9a9" stroke-width="0.8" />
<line x1="277.45" y1="287.50" x2="277.45" y2="356.40" stroke="#d8d8d8" stroke-width="0.6" />
<line x1="287.16" y1="287.50" x2="287.16" y2="356.40" stroke="#a9a9a9" stroke-width="0.8" />
<line x1="296.87" y1="287.50" x2="296.87" y2="356.40" stroke="#d8d8d8" stroke-width="0.6" />
<line x1="306.58" y1="287.50" x2="306.58" y2="356.40" stroke="#a9a9a9" stroke-width="0.8" />
<line x1="316.29" y1="287.50" x2="316.29" y2="356.40" stroke="#d8d8d8" stroke-width="0.6" />
<line x1="326.00" y1="287.50" x2="326.00" y2="356.40" stroke="#a9a9a9" stroke-width="0.8" />
<line x1="131.80" y1="356.40" x2="326.00" y2="356.40" stroke="#a9a9a9" stroke-width="0.8" />
<line x1="131.80" y1="350.66" x2="326.00" y2="350.66" stroke="#d8d8d8" stroke-width="0.5" />
<line x1="131.80" y1="344.92" x2="326.00" y2="344.92" stroke="#a9a9a9" stroke-width="0.8" />
<line x1="131.80" y1="339.18" x2="326.00" y2="339.18" stroke="#d8d8d8" stroke-width="0.5" />
<line x1="131.80" y1="333.43" x2="326.00" y2="333.43" stroke="#a9a9a9" stroke-width="0.8" />
<line x1="131.80" y1="327.69" x2="326.00" y2="327.69" stroke="#d8d8d8" stroke-width="0.5" />
<line x1="131.80" y1="321.95" x2="326.00" y2="321.95" stroke="#a9a9a9" stroke-width="0.8" />
<line x1="131.80" y1="316.21" x2="326.00" y2="316.21" stroke="#d8d8d8" stroke-width="0.5" />
<line x1="131.80" y1="310.47" x2="326.00" y2="310.47" stroke="#a9a9a9" stroke-width="0.8" />
<line x1="131.80" y1="304.73" x2="326.00" y2="304.73" stroke="#d8d8d8" stroke-width="0.5" />
<line x1="131.80" y1="298.98" x2="326.00" y2="298.98" stroke="#a9a9a9" stroke-width="0.8" />
<line x1="131.80" y1="293.24" x2="326.00" y2="293.24" stroke="#d8d8d8" stroke-width="0.5" />
<line x1="131.80" y1="287.50" x2="326.00" y2="287.50" stroke="#a9a9a9" stroke-width="0.8" />
<path d="M141.51,337.34 C146.46,336.27 160.32,333.13 171.22,330.91 C182.13,328.69 195.04,326.24 206.96,324.02 C218.87,321.80 230.78,319.27 242.69,317.59 C254.60,315.90 267.77,314.75 278.42,313.91 C289.07,313.07 301.89,312.76 306.58,312.53" fill="none" stroke="#262462" stroke-width="1.75"/>
<rect x="131.80" y="287.50" width="194.20" height="68.90" fill="none" stroke="#2a2a2a" stroke-width="1.1"/>
<text transform="translate(129.40,358.50) scale(0.7,1)" font-size="6.5" text-anchor="end" font-weight="bold" fill="#333"  >0.10</text>
<line x1="130.30" y1="356.40" x2="131.80" y2="356.40" stroke="#2a2a2a" stroke-width="0.6" />
<text transform="translate(129.40,347.02) scale(0.7,1)" font-size="6.5" text-anchor="end" font-weight="bold" fill="#333"  >0.15</text>
<line x1="130.30" y1="344.92" x2="131.80" y2="344.92" stroke="#2a2a2a" stroke-width="0.6" />
<text transform="translate(129.40,335.53) scale(0.7,1)" font-size="6.5" text-anchor="end" font-weight="bold" fill="#333"  >0.20</text>
<line x1="130.30" y1="333.43" x2="131.80" y2="333.43" stroke="#2a2a2a" stroke-width="0.6" />
<text transform="translate(129.40,324.05) scale(0.7,1)" font-size="6.5" text-anchor="end" font-weight="bold" fill="#333"  >0.25</text>
<line x1="130.30" y1="321.95" x2="131.80" y2="321.95" stroke="#2a2a2a" stroke-width="0.6" />
<text transform="translate(129.40,312.57) scale(0.7,1)" font-size="6.5" text-anchor="end" font-weight="bold" fill="#333"  >0.30</text>
<line x1="130.30" y1="310.47" x2="131.80" y2="310.47" stroke="#2a2a2a" stroke-width="0.6" />
<text transform="translate(129.40,301.08) scale(0.7,1)" font-size="6.5" text-anchor="end" font-weight="bold" fill="#333"  >0.35</text>
<line x1="130.30" y1="298.98" x2="131.80" y2="298.98" stroke="#2a2a2a" stroke-width="0.6" />
<text transform="translate(129.40,289.60) scale(0.7,1)" font-size="6.5" text-anchor="end" font-weight="bold" fill="#333"  >0.40</text>
<line x1="130.30" y1="287.50" x2="131.80" y2="287.50" stroke="#2a2a2a" stroke-width="0.6" />
<text transform="translate(131.80,364.20) scale(0.7,1)" font-size="6.5" text-anchor="middle" font-weight="bold" fill="#333"  >0</text>
<line x1="131.80" y1="356.40" x2="131.80" y2="358.00" stroke="#2a2a2a" stroke-width="0.6" />
<text transform="translate(151.22,364.20) scale(0.7,1)" font-size="6.5" text-anchor="middle" font-weight="bold" fill="#333"  >10</text>
<line x1="151.22" y1="356.40" x2="151.22" y2="358.00" stroke="#2a2a2a" stroke-width="0.6" />
<text transform="translate(170.64,364.20) scale(0.7,1)" font-size="6.5" text-anchor="middle" font-weight="bold" fill="#333"  >20</text>
<line x1="170.64" y1="356.40" x2="170.64" y2="358.00" stroke="#2a2a2a" stroke-width="0.6" />
<text transform="translate(190.06,364.20) scale(0.7,1)" font-size="6.5" text-anchor="middle" font-weight="bold" fill="#333"  >30</text>
<line x1="190.06" y1="356.40" x2="190.06" y2="358.00" stroke="#2a2a2a" stroke-width="0.6" />
<text transform="translate(209.48,364.20) scale(0.7,1)" font-size="6.5" text-anchor="middle" font-weight="bold" fill="#333"  >40</text>
<line x1="209.48" y1="356.40" x2="209.48" y2="358.00" stroke="#2a2a2a" stroke-width="0.6" />
<text transform="translate(228.90,364.20) scale(0.7,1)" font-size="6.5" text-anchor="middle" font-weight="bold" fill="#333"  >50</text>
<line x1="228.90" y1="356.40" x2="228.90" y2="358.00" stroke="#2a2a2a" stroke-width="0.6" />
<text transform="translate(248.32,364.20) scale(0.7,1)" font-size="6.5" text-anchor="middle" font-weight="bold" fill="#333"  >60</text>
<line x1="248.32" y1="356.40" x2="248.32" y2="358.00" stroke="#2a2a2a" stroke-width="0.6" />
<text transform="translate(267.74,364.20) scale(0.7,1)" font-size="6.5" text-anchor="middle" font-weight="bold" fill="#333"  >70</text>
<line x1="267.74" y1="356.40" x2="267.74" y2="358.00" stroke="#2a2a2a" stroke-width="0.6" />
<text transform="translate(287.16,364.20) scale(0.7,1)" font-size="6.5" text-anchor="middle" font-weight="bold" fill="#333"  >80</text>
<line x1="287.16" y1="356.40" x2="287.16" y2="358.00" stroke="#2a2a2a" stroke-width="0.6" />
<text transform="translate(306.58,364.20) scale(0.7,1)" font-size="6.5" text-anchor="middle" font-weight="bold" fill="#333"  >90</text>
<line x1="306.58" y1="356.40" x2="306.58" y2="358.00" stroke="#2a2a2a" stroke-width="0.6" />
<text transform="translate(326.00,364.20) scale(0.7,1)" font-size="6.5" text-anchor="middle" font-weight="bold" fill="#333"  >100</text>
<line x1="326.00" y1="356.40" x2="326.00" y2="358.00" stroke="#2a2a2a" stroke-width="0.6" />
<line x1="326.00" y1="345.11" x2="327.80" y2="345.11" stroke="#2a2a2a" stroke-width="0.6" />
<text transform="translate(328.60,347.11) scale(0.7,1)" font-size="5.7" text-anchor="start" font-weight="normal" fill="#555" stroke="#555" stroke-width="0.1" >0.2</text>
<line x1="326.00" y1="327.99" x2="327.80" y2="327.99" stroke="#2a2a2a" stroke-width="0.6" />
<text transform="translate(328.60,329.99) scale(0.7,1)" font-size="5.7" text-anchor="start" font-weight="normal" fill="#555" stroke="#555" stroke-width="0.1" >0.3</text>
<line x1="326.00" y1="310.86" x2="327.80" y2="310.86" stroke="#2a2a2a" stroke-width="0.6" />
<text transform="translate(328.60,312.86) scale(0.7,1)" font-size="5.7" text-anchor="start" font-weight="normal" fill="#555" stroke="#555" stroke-width="0.1" >0.4</text>
<line x1="326.00" y1="293.74" x2="327.80" y2="293.74" stroke="#2a2a2a" stroke-width="0.6" />
<text transform="translate(328.60,295.74) scale(0.7,1)" font-size="5.7" text-anchor="start" font-weight="normal" fill="#555" stroke="#555" stroke-width="0.1" >0.5</text>
<text transform="translate(327.80,289.80) scale(0.8,1)" font-size="5.0" text-anchor="start" font-weight="normal" fill="#222" stroke="#222" stroke-width="0.18" >HP</text>
<line x1="109.80" y1="287.50" x2="109.80" y2="356.40" stroke="#333" stroke-width="0.75" />
<text transform="translate(117.00,322) rotate(-90) scale(0.93,1)" font-size="6.1" text-anchor="middle" font-weight="bold" fill="#111" stroke="#111" stroke-width="0.2">P2 ст. (кВт)</text>
<text transform="translate(230.90,370.9) scale(0.92,1)" font-size="6.4" text-anchor="middle" font-weight="bold" fill="#111" stroke="#111" stroke-width="0.2">Q (л/мин)</text>
<line x1="131.80" y1="374.90" x2="326.00" y2="374.90" stroke="#333" stroke-width="0.75" />
<rect x="389.2" y="87.4" width="194.8" height="125.8" fill="#fff"/>
<line x1="389.20" y1="87.40" x2="389.20" y2="213.20" stroke="#a9a9a9" stroke-width="0.8" />
<line x1="396.16" y1="87.40" x2="396.16" y2="213.20" stroke="#d8d8d8" stroke-width="0.6" />
<line x1="403.11" y1="87.40" x2="403.11" y2="213.20" stroke="#a9a9a9" stroke-width="0.8" />
<line x1="410.07" y1="87.40" x2="410.07" y2="213.20" stroke="#d8d8d8" stroke-width="0.6" />
<line x1="417.03" y1="87.40" x2="417.03" y2="213.20" stroke="#a9a9a9" stroke-width="0.8" />
<line x1="423.99" y1="87.40" x2="423.99" y2="213.20" stroke="#d8d8d8" stroke-width="0.6" />
<line x1="430.94" y1="87.40" x2="430.94" y2="213.20" stroke="#a9a9a9" stroke-width="0.8" />
<line x1="437.90" y1="87.40" x2="437.90" y2="213.20" stroke="#d8d8d8" stroke-width="0.6" />
<line x1="444.86" y1="87.40" x2="444.86" y2="213.20" stroke="#a9a9a9" stroke-width="0.8" />
<line x1="451.81" y1="87.40" x2="451.81" y2="213.20" stroke="#d8d8d8" stroke-width="0.6" />
<line x1="458.77" y1="87.40" x2="458.77" y2="213.20" stroke="#a9a9a9" stroke-width="0.8" />
<line x1="465.73" y1="87.40" x2="465.73" y2="213.20" stroke="#d8d8d8" stroke-width="0.6" />
<line x1="472.69" y1="87.40" x2="472.69" y2="213.20" stroke="#a9a9a9" stroke-width="0.8" />
<line x1="479.64" y1="87.40" x2="479.64" y2="213.20" stroke="#d8d8d8" stroke-width="0.6" />
<line x1="486.60" y1="87.40" x2="486.60" y2="213.20" stroke="#a9a9a9" stroke-width="0.8" />
<line x1="493.56" y1="87.40" x2="493.56" y2="213.20" stroke="#d8d8d8" stroke-width="0.6" />
<line x1="500.51" y1="87.40" x2="500.51" y2="213.20" stroke="#a9a9a9" stroke-width="0.8" />
<line x1="507.47" y1="87.40" x2="507.47" y2="213.20" stroke="#d8d8d8" stroke-width="0.6" />
<line x1="514.43" y1="87.40" x2="514.43" y2="213.20" stroke="#a9a9a9" stroke-width="0.8" />
<line x1="521.39" y1="87.40" x2="521.39" y2="213.20" stroke="#d8d8d8" stroke-width="0.6" />
<line x1="528.34" y1="87.40" x2="528.34" y2="213.20" stroke="#a9a9a9" stroke-width="0.8" />
<line x1="535.30" y1="87.40" x2="535.30" y2="213.20" stroke="#d8d8d8" stroke-width="0.6" />
<line x1="542.26" y1="87.40" x2="542.26" y2="213.20" stroke="#a9a9a9" stroke-width="0.8" />
<line x1="549.21" y1="87.40" x2="549.21" y2="213.20" stroke="#d8d8d8" stroke-width="0.6" />
<line x1="556.17" y1="87.40" x2="556.17" y2="213.20" stroke="#a9a9a9" stroke-width="0.8" />
<line x1="563.13" y1="87.40" x2="563.13" y2="213.20" stroke="#d8d8d8" stroke-width="0.6" />
<line x1="570.09" y1="87.40" x2="570.09" y2="213.20" stroke="#a9a9a9" stroke-width="0.8" />
<line x1="577.04" y1="87.40" x2="577.04" y2="213.20" stroke="#d8d8d8" stroke-width="0.6" />
<line x1="584.00" y1="87.40" x2="584.00" y2="213.20" stroke="#a9a9a9" stroke-width="0.8" />
<line x1="389.20" y1="213.20" x2="584.00" y2="213.20" stroke="#a9a9a9" stroke-width="0.8" />
<line x1="389.20" y1="207.48" x2="584.00" y2="207.48" stroke="#d8d8d8" stroke-width="0.5" />
<line x1="389.20" y1="201.76" x2="584.00" y2="201.76" stroke="#a9a9a9" stroke-width="0.8" />
<line x1="389.20" y1="196.05" x2="584.00" y2="196.05" stroke="#d8d8d8" stroke-width="0.5" />
<line x1="389.20" y1="190.33" x2="584.00" y2="190.33" stroke="#a9a9a9" stroke-width="0.8" />
<line x1="389.20" y1="184.61" x2="584.00" y2="184.61" stroke="#d8d8d8" stroke-width="0.5" />
<line x1="389.20" y1="178.89" x2="584.00" y2="178.89" stroke="#a9a9a9" stroke-width="0.8" />
<line x1="389.20" y1="173.17" x2="584.00" y2="173.17" stroke="#d8d8d8" stroke-width="0.5" />
<line x1="389.20" y1="167.45" x2="584.00" y2="167.45" stroke="#a9a9a9" stroke-width="0.8" />
<line x1="389.20" y1="161.74" x2="584.00" y2="161.74" stroke="#d8d8d8" stroke-width="0.5" />
<line x1="389.20" y1="156.02" x2="584.00" y2="156.02" stroke="#a9a9a9" stroke-width="0.8" />
<line x1="389.20" y1="150.30" x2="584.00" y2="150.30" stroke="#d8d8d8" stroke-width="0.5" />
<line x1="389.20" y1="144.58" x2="584.00" y2="144.58" stroke="#a9a9a9" stroke-width="0.8" />
<line x1="389.20" y1="138.86" x2="584.00" y2="138.86" stroke="#d8d8d8" stroke-width="0.5" />
<line x1="389.20" y1="133.15" x2="584.00" y2="133.15" stroke="#a9a9a9" stroke-width="0.8" />
<line x1="389.20" y1="127.43" x2="584.00" y2="127.43" stroke="#d8d8d8" stroke-width="0.5" />
<line x1="389.20" y1="121.71" x2="584.00" y2="121.71" stroke="#a9a9a9" stroke-width="0.8" />
<line x1="389.20" y1="115.99" x2="584.00" y2="115.99" stroke="#d8d8d8" stroke-width="0.5" />
<line x1="389.20" y1="110.27" x2="584.00" y2="110.27" stroke="#a9a9a9" stroke-width="0.8" />
<line x1="389.20" y1="104.55" x2="584.00" y2="104.55" stroke="#d8d8d8" stroke-width="0.5" />
<line x1="389.20" y1="98.84" x2="584.00" y2="98.84" stroke="#a9a9a9" stroke-width="0.8" />
<line x1="389.20" y1="93.12" x2="584.00" y2="93.12" stroke="#d8d8d8" stroke-width="0.5" />
<line x1="389.20" y1="87.40" x2="584.00" y2="87.40" stroke="#a9a9a9" stroke-width="0.8" />
<path d="M389.20,213.20 C390.27,210.65 392.77,204.30 395.60,197.88 C398.43,191.45 402.63,180.61 406.18,174.66 C409.72,168.71 412.74,167.24 416.89,162.19 C421.04,157.14 426.33,149.54 431.08,144.35 C435.84,139.17 440.66,135.26 445.41,131.09 C450.17,126.91 454.30,123.04 459.61,119.31 C464.92,115.57 471.36,111.34 477.28,108.67 C483.19,106.00 489.03,104.50 495.09,103.30 C501.14,102.10 507.66,101.58 513.59,101.47 C519.53,101.35 524.91,101.71 530.71,102.61 C536.51,103.51 541.91,104.92 548.38,106.84 C554.85,108.77 566.00,112.94 569.53,114.16" fill="none" stroke="#3a88c6" stroke-width="1.3" stroke-dasharray="2.2 1.5 2.2 1.5 2.2 1.5 2.2 1.5 2.2 1.5 2000" />
<path d="M389.20,175.37 C390.36,175.40 395.00,175.52 396.16,175.55" fill="none" stroke="#262462" stroke-width="1.7" stroke-dasharray="1.5 1.1 1.5 1.1 1.5 1.1"/>
<path d="M396.16,175.55 C397.32,175.59 398.48,175.57 403.11,175.78 C407.75,175.98 417.03,176.36 423.99,176.76 C430.94,177.16 437.90,177.63 444.86,178.17 C451.81,178.71 458.77,179.32 465.73,180.00 C472.69,180.67 479.64,181.42 486.60,182.23 C493.56,183.04 500.51,183.91 507.47,184.85 C514.43,185.78 521.39,186.78 528.34,187.84 C535.30,188.90 542.26,190.02 549.21,191.19 C556.17,192.37 566.61,194.27 570.09,194.89" fill="none" stroke="#262462" stroke-width="1.75"/>
<path d="M389.20,157.16 C390.36,157.19 395.00,157.33 396.16,157.37" fill="none" stroke="#262462" stroke-width="1.7" stroke-dasharray="1.5 1.1 1.5 1.1 1.5 1.1"/>
<path d="M396.16,157.37 C397.32,157.42 398.48,157.38 403.11,157.67 C407.75,157.96 417.03,158.51 423.99,159.12 C430.94,159.74 437.90,160.48 444.86,161.33 C451.81,162.18 458.77,163.15 465.73,164.21 C472.69,165.27 479.64,166.44 486.60,167.68 C493.56,168.91 500.51,170.25 507.47,171.65 C514.43,173.04 521.39,174.52 528.34,176.04 C535.30,177.56 542.26,179.16 549.21,180.78 C556.17,182.40 566.61,184.94 570.09,185.78" fill="none" stroke="#262462" stroke-width="1.75"/>
<path d="M389.20,138.79 C390.36,138.83 395.00,138.99 396.16,139.03" fill="none" stroke="#262462" stroke-width="1.7" stroke-dasharray="1.5 1.1 1.5 1.1 1.5 1.1"/>
<path d="M396.16,139.03 C397.32,139.09 398.48,139.04 403.11,139.40 C407.75,139.76 417.03,140.44 423.99,141.21 C430.94,141.97 437.90,142.92 444.86,144.01 C451.81,145.09 458.77,146.34 465.73,147.71 C472.69,149.09 479.64,150.61 486.60,152.23 C493.56,153.86 500.51,155.62 507.47,157.48 C514.43,159.33 521.39,161.30 528.34,163.35 C535.30,165.40 542.26,167.55 549.21,169.77 C556.17,171.98 566.61,175.49 570.09,176.63" fill="none" stroke="#262462" stroke-width="1.75"/>
<path d="M389.20,120.43 C390.36,120.47 395.00,120.60 396.16,120.64" fill="none" stroke="#262462" stroke-width="1.7" stroke-dasharray="1.5 1.1 1.5 1.1 1.5 1.1"/>
<path d="M396.16,120.64 C397.32,120.70 398.48,120.60 403.11,121.01 C407.75,121.43 417.03,122.18 423.99,123.11 C430.94,124.03 437.90,125.20 444.86,126.55 C451.81,127.90 458.77,129.48 465.73,131.22 C472.69,132.96 479.64,134.90 486.60,136.99 C493.56,139.08 500.51,141.35 507.47,143.74 C514.43,146.13 521.39,148.69 528.34,151.35 C535.30,154.00 542.26,156.80 549.21,159.68 C556.17,162.56 566.61,167.14 570.09,168.63" fill="none" stroke="#262462" stroke-width="1.75"/>
<path d="M389.20,101.48 C390.36,101.55 395.00,101.80 396.16,101.87" fill="none" stroke="#262462" stroke-width="1.7" stroke-dasharray="1.5 1.1 1.5 1.1 1.5 1.1"/>
<path d="M396.16,101.87 C397.32,101.96 398.48,101.88 403.11,102.44 C407.75,102.99 417.03,104.03 423.99,105.21 C430.94,106.38 437.90,107.83 444.86,109.49 C451.81,111.14 458.77,113.05 465.73,115.14 C472.69,117.23 479.64,119.55 486.60,122.03 C493.56,124.51 500.51,127.20 507.47,130.04 C514.43,132.87 521.39,135.89 528.34,139.03 C535.30,142.17 542.26,145.48 549.21,148.88 C556.17,152.29 566.61,157.70 570.09,159.46" fill="none" stroke="#262462" stroke-width="1.75"/>
<rect x="389.20" y="87.40" width="194.80" height="125.80" fill="none" stroke="#2a2a2a" stroke-width="1.3"/>
<circle cx="416.89" cy="162.19" r="1.5" fill="#3a88c6"/>
<text transform="translate(416.29,168.79) scale(0.95,1)" font-size="5.3" text-anchor="start" font-weight="bold" fill="#000" stroke="#000" stroke-width="0.2" >22.5</text>
<circle cx="513.59" cy="101.47" r="1.5" fill="#3a88c6"/>
<circle cx="569.53" cy="114.16" r="1.5" fill="#3a88c6"/>
<text transform="translate(568.23,121.16) scale(0.95,1)" font-size="5.3" text-anchor="start" font-weight="bold" fill="#000" stroke="#000" stroke-width="0.2" >43.5</text>
<text transform="translate(396.50,173.46) scale(0.86,1)" font-size="6.0" text-anchor="start" font-weight="bold" fill="#000" stroke="#000" stroke-width="0.28" >HT 5/2</text>
<text transform="translate(396.50,155.16) scale(0.86,1)" font-size="6.0" text-anchor="start" font-weight="bold" fill="#000" stroke="#000" stroke-width="0.28" >HT 5/3</text>
<text transform="translate(396.50,136.86) scale(0.86,1)" font-size="6.0" text-anchor="start" font-weight="bold" fill="#000" stroke="#000" stroke-width="0.28" >HT 5/4</text>
<text transform="translate(396.50,118.57) scale(0.86,1)" font-size="6.0" text-anchor="start" font-weight="bold" fill="#000" stroke="#000" stroke-width="0.28" >HT 5/5</text>
<text transform="translate(396.50,99.12) scale(0.86,1)" font-size="6.0" text-anchor="start" font-weight="bold" fill="#000" stroke="#000" stroke-width="0.28" >HT 5/6</text>
<rect x="463.5" y="188.2" width="43.5" height="9" fill="#e6e9ec"/>
<text transform="translate(485.00,195.60) scale(1.0,1)" font-size="8.6" text-anchor="middle" font-weight="bold" fill="#111"  >MEI ≥ 0.40</text>
<text transform="translate(506.60,97.80) scale(0.9,1)" font-size="7.0" text-anchor="start" font-weight="normal" fill="#222" stroke="#222" stroke-width="0.12" >η</text>
<text transform="translate(512.80,97.50) scale(1.0,1)" font-size="6.6" text-anchor="start" font-weight="normal" fill="#222" stroke="#222" stroke-width="0.12" >=</text>
<text transform="translate(517.40,97.80) scale(0.88,1)" font-size="7.0" text-anchor="start" font-weight="bold" fill="#111" stroke="#111" stroke-width="0.05" >49%</text>
<text transform="translate(386.80,215.30) scale(0.7,1)" font-size="6.5" text-anchor="end" font-weight="bold" fill="#333"  >0</text>
<line x1="387.70" y1="213.20" x2="389.20" y2="213.20" stroke="#2a2a2a" stroke-width="0.6" />
<text transform="translate(386.80,203.86) scale(0.7,1)" font-size="6.5" text-anchor="end" font-weight="bold" fill="#333"  >10</text>
<line x1="387.70" y1="201.76" x2="389.20" y2="201.76" stroke="#2a2a2a" stroke-width="0.6" />
<text transform="translate(386.80,192.43) scale(0.7,1)" font-size="6.5" text-anchor="end" font-weight="bold" fill="#333"  >20</text>
<line x1="387.70" y1="190.33" x2="389.20" y2="190.33" stroke="#2a2a2a" stroke-width="0.6" />
<text transform="translate(386.80,180.99) scale(0.7,1)" font-size="6.5" text-anchor="end" font-weight="bold" fill="#333"  >30</text>
<line x1="387.70" y1="178.89" x2="389.20" y2="178.89" stroke="#2a2a2a" stroke-width="0.6" />
<text transform="translate(386.80,169.55) scale(0.7,1)" font-size="6.5" text-anchor="end" font-weight="bold" fill="#333"  >40</text>
<line x1="387.70" y1="167.45" x2="389.20" y2="167.45" stroke="#2a2a2a" stroke-width="0.6" />
<text transform="translate(386.80,158.12) scale(0.7,1)" font-size="6.5" text-anchor="end" font-weight="bold" fill="#333"  >50</text>
<line x1="387.70" y1="156.02" x2="389.20" y2="156.02" stroke="#2a2a2a" stroke-width="0.6" />
<text transform="translate(386.80,146.68) scale(0.7,1)" font-size="6.5" text-anchor="end" font-weight="bold" fill="#333"  >60</text>
<line x1="387.70" y1="144.58" x2="389.20" y2="144.58" stroke="#2a2a2a" stroke-width="0.6" />
<text transform="translate(386.80,135.25) scale(0.7,1)" font-size="6.5" text-anchor="end" font-weight="bold" fill="#333"  >70</text>
<line x1="387.70" y1="133.15" x2="389.20" y2="133.15" stroke="#2a2a2a" stroke-width="0.6" />
<text transform="translate(386.80,123.81) scale(0.7,1)" font-size="6.5" text-anchor="end" font-weight="bold" fill="#333"  >80</text>
<line x1="387.70" y1="121.71" x2="389.20" y2="121.71" stroke="#2a2a2a" stroke-width="0.6" />
<text transform="translate(386.80,112.37) scale(0.7,1)" font-size="6.5" text-anchor="end" font-weight="bold" fill="#333"  >90</text>
<line x1="387.70" y1="110.27" x2="389.20" y2="110.27" stroke="#2a2a2a" stroke-width="0.6" />
<text transform="translate(386.80,100.94) scale(0.7,1)" font-size="6.5" text-anchor="end" font-weight="bold" fill="#333"  >100</text>
<line x1="387.70" y1="98.84" x2="389.20" y2="98.84" stroke="#2a2a2a" stroke-width="0.6" />
<text transform="translate(386.80,89.50) scale(0.7,1)" font-size="6.5" text-anchor="end" font-weight="bold" fill="#333"  >110</text>
<line x1="387.70" y1="87.40" x2="389.20" y2="87.40" stroke="#2a2a2a" stroke-width="0.6" />
<text transform="translate(389.20,220.70) scale(0.7,1)" font-size="6.5" text-anchor="middle" font-weight="bold" fill="#333"  >0</text>
<line x1="389.20" y1="213.20" x2="389.20" y2="214.80" stroke="#2a2a2a" stroke-width="0.6" />
<text transform="translate(403.11,220.70) scale(0.7,1)" font-size="6.5" text-anchor="middle" font-weight="bold" fill="#333"  >10</text>
<line x1="403.11" y1="213.20" x2="403.11" y2="214.80" stroke="#2a2a2a" stroke-width="0.6" />
<text transform="translate(417.03,220.70) scale(0.7,1)" font-size="6.5" text-anchor="middle" font-weight="bold" fill="#333"  >20</text>
<line x1="417.03" y1="213.20" x2="417.03" y2="214.80" stroke="#2a2a2a" stroke-width="0.6" />
<text transform="translate(430.94,220.70) scale(0.7,1)" font-size="6.5" text-anchor="middle" font-weight="bold" fill="#333"  >30</text>
<line x1="430.94" y1="213.20" x2="430.94" y2="214.80" stroke="#2a2a2a" stroke-width="0.6" />
<text transform="translate(444.86,220.70) scale(0.7,1)" font-size="6.5" text-anchor="middle" font-weight="bold" fill="#333"  >40</text>
<line x1="444.86" y1="213.20" x2="444.86" y2="214.80" stroke="#2a2a2a" stroke-width="0.6" />
<text transform="translate(458.77,220.70) scale(0.7,1)" font-size="6.5" text-anchor="middle" font-weight="bold" fill="#333"  >50</text>
<line x1="458.77" y1="213.20" x2="458.77" y2="214.80" stroke="#2a2a2a" stroke-width="0.6" />
<text transform="translate(472.69,220.70) scale(0.7,1)" font-size="6.5" text-anchor="middle" font-weight="bold" fill="#333"  >60</text>
<line x1="472.69" y1="213.20" x2="472.69" y2="214.80" stroke="#2a2a2a" stroke-width="0.6" />
<text transform="translate(486.60,220.70) scale(0.7,1)" font-size="6.5" text-anchor="middle" font-weight="bold" fill="#333"  >70</text>
<line x1="486.60" y1="213.20" x2="486.60" y2="214.80" stroke="#2a2a2a" stroke-width="0.6" />
<text transform="translate(500.51,220.70) scale(0.7,1)" font-size="6.5" text-anchor="middle" font-weight="bold" fill="#333"  >80</text>
<line x1="500.51" y1="213.20" x2="500.51" y2="214.80" stroke="#2a2a2a" stroke-width="0.6" />
<text transform="translate(514.43,220.70) scale(0.7,1)" font-size="6.5" text-anchor="middle" font-weight="bold" fill="#333"  >90</text>
<line x1="514.43" y1="213.20" x2="514.43" y2="214.80" stroke="#2a2a2a" stroke-width="0.6" />
<text transform="translate(528.34,220.70) scale(0.7,1)" font-size="6.5" text-anchor="middle" font-weight="bold" fill="#333"  >100</text>
<line x1="528.34" y1="213.20" x2="528.34" y2="214.80" stroke="#2a2a2a" stroke-width="0.6" />
<text transform="translate(542.26,220.70) scale(0.7,1)" font-size="6.5" text-anchor="middle" font-weight="bold" fill="#333"  >110</text>
<line x1="542.26" y1="213.20" x2="542.26" y2="214.80" stroke="#2a2a2a" stroke-width="0.6" />
<text transform="translate(556.17,220.70) scale(0.7,1)" font-size="6.5" text-anchor="middle" font-weight="bold" fill="#333"  >120</text>
<line x1="556.17" y1="213.20" x2="556.17" y2="214.80" stroke="#2a2a2a" stroke-width="0.6" />
<text transform="translate(570.09,220.70) scale(0.7,1)" font-size="6.5" text-anchor="middle" font-weight="bold" fill="#333"  >130</text>
<line x1="570.09" y1="213.20" x2="570.09" y2="214.80" stroke="#2a2a2a" stroke-width="0.6" />
<text transform="translate(584.00,220.70) scale(0.7,1)" font-size="6.5" text-anchor="middle" font-weight="bold" fill="#333"  >140</text>
<line x1="584.00" y1="213.20" x2="584.00" y2="214.80" stroke="#2a2a2a" stroke-width="0.6" />
<line x1="584.00" y1="213.20" x2="585.80" y2="213.20" stroke="#2a2a2a" stroke-width="0.6" />
<text transform="translate(586.40,213.80) scale(0.7,1)" font-size="5.7" text-anchor="start" font-weight="normal" fill="#555" stroke="#555" stroke-width="0.1" >0</text>
<line x1="584.00" y1="178.34" x2="585.80" y2="178.34" stroke="#2a2a2a" stroke-width="0.6" />
<text transform="translate(586.40,180.34) scale(0.7,1)" font-size="5.7" text-anchor="start" font-weight="normal" fill="#555" stroke="#555" stroke-width="0.1" >100</text>
<line x1="584.00" y1="143.48" x2="585.80" y2="143.48" stroke="#2a2a2a" stroke-width="0.6" />
<text transform="translate(586.40,145.48) scale(0.7,1)" font-size="5.7" text-anchor="start" font-weight="normal" fill="#555" stroke="#555" stroke-width="0.1" >200</text>
<line x1="584.00" y1="108.63" x2="585.80" y2="108.63" stroke="#2a2a2a" stroke-width="0.6" />
<text transform="translate(586.40,110.63) scale(0.7,1)" font-size="5.7" text-anchor="start" font-weight="normal" fill="#555" stroke="#555" stroke-width="0.1" >300</text>
<line x1="584.00" y1="213.20" x2="585.00" y2="213.20" stroke="#2a2a2a" stroke-width="0.4" />
<line x1="584.00" y1="206.23" x2="585.00" y2="206.23" stroke="#2a2a2a" stroke-width="0.4" />
<line x1="584.00" y1="199.26" x2="585.00" y2="199.26" stroke="#2a2a2a" stroke-width="0.4" />
<line x1="584.00" y1="192.29" x2="585.00" y2="192.29" stroke="#2a2a2a" stroke-width="0.4" />
<line x1="584.00" y1="185.31" x2="585.00" y2="185.31" stroke="#2a2a2a" stroke-width="0.4" />
<line x1="584.00" y1="178.34" x2="585.00" y2="178.34" stroke="#2a2a2a" stroke-width="0.4" />
<line x1="584.00" y1="171.37" x2="585.00" y2="171.37" stroke="#2a2a2a" stroke-width="0.4" />
<line x1="584.00" y1="164.40" x2="585.00" y2="164.40" stroke="#2a2a2a" stroke-width="0.4" />
<line x1="584.00" y1="157.43" x2="585.00" y2="157.43" stroke="#2a2a2a" stroke-width="0.4" />
<line x1="584.00" y1="150.46" x2="585.00" y2="150.46" stroke="#2a2a2a" stroke-width="0.4" />
<line x1="584.00" y1="143.48" x2="585.00" y2="143.48" stroke="#2a2a2a" stroke-width="0.4" />
<line x1="584.00" y1="136.51" x2="585.00" y2="136.51" stroke="#2a2a2a" stroke-width="0.4" />
<line x1="584.00" y1="129.54" x2="585.00" y2="129.54" stroke="#2a2a2a" stroke-width="0.4" />
<line x1="584.00" y1="122.57" x2="585.00" y2="122.57" stroke="#2a2a2a" stroke-width="0.4" />
<line x1="584.00" y1="115.60" x2="585.00" y2="115.60" stroke="#2a2a2a" stroke-width="0.4" />
<line x1="584.00" y1="108.63" x2="585.00" y2="108.63" stroke="#2a2a2a" stroke-width="0.4" />
<line x1="584.00" y1="101.65" x2="585.00" y2="101.65" stroke="#2a2a2a" stroke-width="0.4" />
<line x1="584.00" y1="94.68" x2="585.00" y2="94.68" stroke="#2a2a2a" stroke-width="0.4" />
<line x1="584.00" y1="87.71" x2="585.00" y2="87.71" stroke="#2a2a2a" stroke-width="0.4" />
<text transform="translate(585.80,89.80) scale(0.8,1)" font-size="5.0" text-anchor="start" font-weight="normal" fill="#222" stroke="#222" stroke-width="0.18" >ФУТ</text>
<line x1="389.20" y1="78.20" x2="584.00" y2="78.20" stroke="#555" stroke-width="0.5" />
<line x1="389.20" y1="76.20" x2="389.20" y2="78.20" stroke="#333" stroke-width="0.55" />
<line x1="394.47" y1="77.20" x2="394.47" y2="78.20" stroke="#333" stroke-width="0.55" />
<line x1="399.73" y1="77.20" x2="399.73" y2="78.20" stroke="#333" stroke-width="0.55" />
<line x1="405.00" y1="77.20" x2="405.00" y2="78.20" stroke="#333" stroke-width="0.55" />
<line x1="410.27" y1="77.20" x2="410.27" y2="78.20" stroke="#333" stroke-width="0.55" />
<line x1="415.53" y1="76.20" x2="415.53" y2="78.20" stroke="#333" stroke-width="0.55" />
<line x1="420.80" y1="77.20" x2="420.80" y2="78.20" stroke="#333" stroke-width="0.55" />
<line x1="426.07" y1="77.20" x2="426.07" y2="78.20" stroke="#333" stroke-width="0.55" />
<line x1="431.33" y1="77.20" x2="431.33" y2="78.20" stroke="#333" stroke-width="0.55" />
<line x1="436.60" y1="77.20" x2="436.60" y2="78.20" stroke="#333" stroke-width="0.55" />
<line x1="441.87" y1="76.20" x2="441.87" y2="78.20" stroke="#333" stroke-width="0.55" />
<line x1="447.13" y1="77.20" x2="447.13" y2="78.20" stroke="#333" stroke-width="0.55" />
<line x1="452.40" y1="77.20" x2="452.40" y2="78.20" stroke="#333" stroke-width="0.55" />
<line x1="457.67" y1="77.20" x2="457.67" y2="78.20" stroke="#333" stroke-width="0.55" />
<line x1="462.93" y1="77.20" x2="462.93" y2="78.20" stroke="#333" stroke-width="0.55" />
<line x1="468.20" y1="76.20" x2="468.20" y2="78.20" stroke="#333" stroke-width="0.55" />
<line x1="473.46" y1="77.20" x2="473.46" y2="78.20" stroke="#333" stroke-width="0.55" />
<line x1="478.73" y1="77.20" x2="478.73" y2="78.20" stroke="#333" stroke-width="0.55" />
<line x1="484.00" y1="77.20" x2="484.00" y2="78.20" stroke="#333" stroke-width="0.55" />
<line x1="489.26" y1="77.20" x2="489.26" y2="78.20" stroke="#333" stroke-width="0.55" />
<line x1="494.53" y1="76.20" x2="494.53" y2="78.20" stroke="#333" stroke-width="0.55" />
<line x1="499.80" y1="77.20" x2="499.80" y2="78.20" stroke="#333" stroke-width="0.55" />
<line x1="505.06" y1="77.20" x2="505.06" y2="78.20" stroke="#333" stroke-width="0.55" />
<line x1="510.33" y1="77.20" x2="510.33" y2="78.20" stroke="#333" stroke-width="0.55" />
<line x1="515.60" y1="77.20" x2="515.60" y2="78.20" stroke="#333" stroke-width="0.55" />
<line x1="520.86" y1="76.20" x2="520.86" y2="78.20" stroke="#333" stroke-width="0.55" />
<line x1="526.13" y1="77.20" x2="526.13" y2="78.20" stroke="#333" stroke-width="0.55" />
<line x1="531.40" y1="77.20" x2="531.40" y2="78.20" stroke="#333" stroke-width="0.55" />
<line x1="536.66" y1="77.20" x2="536.66" y2="78.20" stroke="#333" stroke-width="0.55" />
<line x1="541.93" y1="77.20" x2="541.93" y2="78.20" stroke="#333" stroke-width="0.55" />
<line x1="547.20" y1="76.20" x2="547.20" y2="78.20" stroke="#333" stroke-width="0.55" />
<line x1="552.46" y1="77.20" x2="552.46" y2="78.20" stroke="#333" stroke-width="0.55" />
<line x1="557.73" y1="77.20" x2="557.73" y2="78.20" stroke="#333" stroke-width="0.55" />
<line x1="563.00" y1="77.20" x2="563.00" y2="78.20" stroke="#333" stroke-width="0.55" />
<line x1="568.26" y1="77.20" x2="568.26" y2="78.20" stroke="#333" stroke-width="0.55" />
<line x1="573.53" y1="76.20" x2="573.53" y2="78.20" stroke="#333" stroke-width="0.55" />
<line x1="578.80" y1="77.20" x2="578.80" y2="78.20" stroke="#333" stroke-width="0.55" />
<line x1="584.06" y1="77.20" x2="584.06" y2="78.20" stroke="#333" stroke-width="0.55" />
<text transform="translate(389.20,75.80) scale(0.7,1)" font-size="5.8" text-anchor="middle" font-weight="normal" fill="#222" stroke="#222" stroke-width="0.15" >0</text>
<text transform="translate(441.87,75.80) scale(0.7,1)" font-size="5.8" text-anchor="middle" font-weight="normal" fill="#222" stroke="#222" stroke-width="0.15" >10</text>
<text transform="translate(494.53,75.80) scale(0.7,1)" font-size="5.8" text-anchor="middle" font-weight="normal" fill="#222" stroke="#222" stroke-width="0.15" >20</text>
<text transform="translate(547.20,75.80) scale(0.7,1)" font-size="5.8" text-anchor="middle" font-weight="normal" fill="#222" stroke="#222" stroke-width="0.15" >30</text>
<line x1="389.20" y1="85.00" x2="389.20" y2="87.20" stroke="#333" stroke-width="0.55" />
<line x1="395.53" y1="85.90" x2="395.53" y2="87.20" stroke="#333" stroke-width="0.55" />
<line x1="401.85" y1="85.90" x2="401.85" y2="87.20" stroke="#333" stroke-width="0.55" />
<line x1="408.18" y1="85.90" x2="408.18" y2="87.20" stroke="#333" stroke-width="0.55" />
<line x1="414.50" y1="85.90" x2="414.50" y2="87.20" stroke="#333" stroke-width="0.55" />
<line x1="420.83" y1="85.00" x2="420.83" y2="87.20" stroke="#333" stroke-width="0.55" />
<line x1="427.15" y1="85.90" x2="427.15" y2="87.20" stroke="#333" stroke-width="0.55" />
<line x1="433.48" y1="85.90" x2="433.48" y2="87.20" stroke="#333" stroke-width="0.55" />
<line x1="439.80" y1="85.90" x2="439.80" y2="87.20" stroke="#333" stroke-width="0.55" />
<line x1="446.13" y1="85.90" x2="446.13" y2="87.20" stroke="#333" stroke-width="0.55" />
<line x1="452.45" y1="85.00" x2="452.45" y2="87.20" stroke="#333" stroke-width="0.55" />
<line x1="458.78" y1="85.90" x2="458.78" y2="87.20" stroke="#333" stroke-width="0.55" />
<line x1="465.11" y1="85.90" x2="465.11" y2="87.20" stroke="#333" stroke-width="0.55" />
<line x1="471.43" y1="85.90" x2="471.43" y2="87.20" stroke="#333" stroke-width="0.55" />
<line x1="477.76" y1="85.90" x2="477.76" y2="87.20" stroke="#333" stroke-width="0.55" />
<line x1="484.08" y1="85.00" x2="484.08" y2="87.20" stroke="#333" stroke-width="0.55" />
<line x1="490.41" y1="85.90" x2="490.41" y2="87.20" stroke="#333" stroke-width="0.55" />
<line x1="496.73" y1="85.90" x2="496.73" y2="87.20" stroke="#333" stroke-width="0.55" />
<line x1="503.06" y1="85.90" x2="503.06" y2="87.20" stroke="#333" stroke-width="0.55" />
<line x1="509.38" y1="85.90" x2="509.38" y2="87.20" stroke="#333" stroke-width="0.55" />
<line x1="515.71" y1="85.00" x2="515.71" y2="87.20" stroke="#333" stroke-width="0.55" />
<line x1="522.03" y1="85.90" x2="522.03" y2="87.20" stroke="#333" stroke-width="0.55" />
<line x1="528.36" y1="85.90" x2="528.36" y2="87.20" stroke="#333" stroke-width="0.55" />
<line x1="534.68" y1="85.90" x2="534.68" y2="87.20" stroke="#333" stroke-width="0.55" />
<line x1="541.01" y1="85.90" x2="541.01" y2="87.20" stroke="#333" stroke-width="0.55" />
<line x1="547.34" y1="85.00" x2="547.34" y2="87.20" stroke="#333" stroke-width="0.55" />
<line x1="553.66" y1="85.90" x2="553.66" y2="87.20" stroke="#333" stroke-width="0.55" />
<line x1="559.99" y1="85.90" x2="559.99" y2="87.20" stroke="#333" stroke-width="0.55" />
<line x1="566.31" y1="85.90" x2="566.31" y2="87.20" stroke="#333" stroke-width="0.55" />
<line x1="572.64" y1="85.90" x2="572.64" y2="87.20" stroke="#333" stroke-width="0.55" />
<line x1="578.96" y1="85.00" x2="578.96" y2="87.20" stroke="#333" stroke-width="0.55" />
<text transform="translate(389.20,84.30) scale(0.7,1)" font-size="5.8" text-anchor="middle" font-weight="normal" fill="#222" stroke="#222" stroke-width="0.15" >0</text>
<text transform="translate(452.45,84.30) scale(0.7,1)" font-size="5.8" text-anchor="middle" font-weight="normal" fill="#222" stroke="#222" stroke-width="0.15" >10</text>
<text transform="translate(515.71,84.30) scale(0.7,1)" font-size="5.8" text-anchor="middle" font-weight="normal" fill="#222" stroke="#222" stroke-width="0.15" >20</text>
<text transform="translate(591.10,74.50) scale(0.78,1)" font-size="4.9" text-anchor="end" font-weight="normal" fill="#333" stroke="#333" stroke-width="0.18" >США галлон/мин</text>
<text transform="translate(591.10,83.00) scale(0.78,1)" font-size="4.9" text-anchor="end" font-weight="normal" fill="#333" stroke="#333" stroke-width="0.18" >Брит.галлон/мин</text>
<line x1="389.20" y1="224.00" x2="584.00" y2="224.00" stroke="#555" stroke-width="0.5" />
<line x1="389.20" y1="224.00" x2="389.20" y2="226.00" stroke="#333" stroke-width="0.55" />
<line x1="393.84" y1="224.00" x2="393.84" y2="225.00" stroke="#333" stroke-width="0.55" />
<line x1="398.48" y1="224.00" x2="398.48" y2="225.00" stroke="#333" stroke-width="0.55" />
<line x1="403.11" y1="224.00" x2="403.11" y2="225.00" stroke="#333" stroke-width="0.55" />
<line x1="407.75" y1="224.00" x2="407.75" y2="225.00" stroke="#333" stroke-width="0.55" />
<line x1="412.39" y1="224.00" x2="412.39" y2="226.00" stroke="#333" stroke-width="0.55" />
<line x1="417.03" y1="224.00" x2="417.03" y2="225.00" stroke="#333" stroke-width="0.55" />
<line x1="421.67" y1="224.00" x2="421.67" y2="225.00" stroke="#333" stroke-width="0.55" />
<line x1="426.31" y1="224.00" x2="426.31" y2="225.00" stroke="#333" stroke-width="0.55" />
<line x1="430.94" y1="224.00" x2="430.94" y2="225.00" stroke="#333" stroke-width="0.55" />
<line x1="435.58" y1="224.00" x2="435.58" y2="226.00" stroke="#333" stroke-width="0.55" />
<line x1="440.22" y1="224.00" x2="440.22" y2="225.00" stroke="#333" stroke-width="0.55" />
<line x1="444.86" y1="224.00" x2="444.86" y2="225.00" stroke="#333" stroke-width="0.55" />
<line x1="449.50" y1="224.00" x2="449.50" y2="225.00" stroke="#333" stroke-width="0.55" />
<line x1="454.13" y1="224.00" x2="454.13" y2="225.00" stroke="#333" stroke-width="0.55" />
<line x1="458.77" y1="224.00" x2="458.77" y2="226.00" stroke="#333" stroke-width="0.55" />
<line x1="463.41" y1="224.00" x2="463.41" y2="225.00" stroke="#333" stroke-width="0.55" />
<line x1="468.05" y1="224.00" x2="468.05" y2="225.00" stroke="#333" stroke-width="0.55" />
<line x1="472.69" y1="224.00" x2="472.69" y2="225.00" stroke="#333" stroke-width="0.55" />
<line x1="477.33" y1="224.00" x2="477.33" y2="225.00" stroke="#333" stroke-width="0.55" />
<line x1="481.96" y1="224.00" x2="481.96" y2="226.00" stroke="#333" stroke-width="0.55" />
<line x1="486.60" y1="224.00" x2="486.60" y2="225.00" stroke="#333" stroke-width="0.55" />
<line x1="491.24" y1="224.00" x2="491.24" y2="225.00" stroke="#333" stroke-width="0.55" />
<line x1="495.88" y1="224.00" x2="495.88" y2="225.00" stroke="#333" stroke-width="0.55" />
<line x1="500.52" y1="224.00" x2="500.52" y2="225.00" stroke="#333" stroke-width="0.55" />
<line x1="505.15" y1="224.00" x2="505.15" y2="226.00" stroke="#333" stroke-width="0.55" />
<line x1="509.79" y1="224.00" x2="509.79" y2="225.00" stroke="#333" stroke-width="0.55" />
<line x1="514.43" y1="224.00" x2="514.43" y2="225.00" stroke="#333" stroke-width="0.55" />
<line x1="519.07" y1="224.00" x2="519.07" y2="225.00" stroke="#333" stroke-width="0.55" />
<line x1="523.71" y1="224.00" x2="523.71" y2="225.00" stroke="#333" stroke-width="0.55" />
<line x1="528.35" y1="224.00" x2="528.35" y2="226.00" stroke="#333" stroke-width="0.55" />
<line x1="532.98" y1="224.00" x2="532.98" y2="225.00" stroke="#333" stroke-width="0.55" />
<line x1="537.62" y1="224.00" x2="537.62" y2="225.00" stroke="#333" stroke-width="0.55" />
<line x1="542.26" y1="224.00" x2="542.26" y2="225.00" stroke="#333" stroke-width="0.55" />
<line x1="546.90" y1="224.00" x2="546.90" y2="225.00" stroke="#333" stroke-width="0.55" />
<line x1="551.54" y1="224.00" x2="551.54" y2="226.00" stroke="#333" stroke-width="0.55" />
<line x1="556.17" y1="224.00" x2="556.17" y2="225.00" stroke="#333" stroke-width="0.55" />
<line x1="560.81" y1="224.00" x2="560.81" y2="225.00" stroke="#333" stroke-width="0.55" />
<line x1="565.45" y1="224.00" x2="565.45" y2="225.00" stroke="#333" stroke-width="0.55" />
<line x1="570.09" y1="224.00" x2="570.09" y2="225.00" stroke="#333" stroke-width="0.55" />
<line x1="574.73" y1="224.00" x2="574.73" y2="226.00" stroke="#333" stroke-width="0.55" />
<line x1="579.37" y1="224.00" x2="579.37" y2="225.00" stroke="#333" stroke-width="0.55" />
<line x1="584.00" y1="224.00" x2="584.00" y2="225.00" stroke="#333" stroke-width="0.55" />
<text transform="translate(389.20,230.00) scale(0.7,1)" font-size="5.8" text-anchor="middle" font-weight="normal" fill="#222" stroke="#222" stroke-width="0.15" >0</text>
<text transform="translate(412.39,230.00) scale(0.7,1)" font-size="5.8" text-anchor="middle" font-weight="normal" fill="#222" stroke="#222" stroke-width="0.15" >1</text>
<text transform="translate(435.58,230.00) scale(0.7,1)" font-size="5.8" text-anchor="middle" font-weight="normal" fill="#222" stroke="#222" stroke-width="0.15" >2</text>
<text transform="translate(458.77,230.00) scale(0.7,1)" font-size="5.8" text-anchor="middle" font-weight="normal" fill="#222" stroke="#222" stroke-width="0.15" >3</text>
<text transform="translate(481.96,230.00) scale(0.7,1)" font-size="5.8" text-anchor="middle" font-weight="normal" fill="#222" stroke="#222" stroke-width="0.15" >4</text>
<text transform="translate(505.15,230.00) scale(0.7,1)" font-size="5.8" text-anchor="middle" font-weight="normal" fill="#222" stroke="#222" stroke-width="0.15" >5</text>
<text transform="translate(528.35,230.00) scale(0.7,1)" font-size="5.8" text-anchor="middle" font-weight="normal" fill="#222" stroke="#222" stroke-width="0.15" >6</text>
<text transform="translate(551.54,230.00) scale(0.7,1)" font-size="5.8" text-anchor="middle" font-weight="normal" fill="#222" stroke="#222" stroke-width="0.15" >7</text>
<text transform="translate(574.73,230.00) scale(0.7,1)" font-size="5.8" text-anchor="middle" font-weight="normal" fill="#222" stroke="#222" stroke-width="0.15" >8</text>
<line x1="369.90" y1="87.40" x2="369.90" y2="213.20" stroke="#333" stroke-width="0.75" />
<text transform="translate(376.90,150.4) rotate(-90) scale(0.93,1)" font-size="6.1" text-anchor="middle" font-weight="bold" fill="#111" stroke="#111" stroke-width="0.2">H (м)</text>
<rect x="389.2" y="235.3" width="194.8" height="37" fill="#fff"/>
<line x1="389.20" y1="235.30" x2="389.20" y2="272.30" stroke="#a9a9a9" stroke-width="0.8" />
<line x1="396.16" y1="235.30" x2="396.16" y2="272.30" stroke="#d8d8d8" stroke-width="0.6" />
<line x1="403.11" y1="235.30" x2="403.11" y2="272.30" stroke="#a9a9a9" stroke-width="0.8" />
<line x1="410.07" y1="235.30" x2="410.07" y2="272.30" stroke="#d8d8d8" stroke-width="0.6" />
<line x1="417.03" y1="235.30" x2="417.03" y2="272.30" stroke="#a9a9a9" stroke-width="0.8" />
<line x1="423.99" y1="235.30" x2="423.99" y2="272.30" stroke="#d8d8d8" stroke-width="0.6" />
<line x1="430.94" y1="235.30" x2="430.94" y2="272.30" stroke="#a9a9a9" stroke-width="0.8" />
<line x1="437.90" y1="235.30" x2="437.90" y2="272.30" stroke="#d8d8d8" stroke-width="0.6" />
<line x1="444.86" y1="235.30" x2="444.86" y2="272.30" stroke="#a9a9a9" stroke-width="0.8" />
<line x1="451.81" y1="235.30" x2="451.81" y2="272.30" stroke="#d8d8d8" stroke-width="0.6" />
<line x1="458.77" y1="235.30" x2="458.77" y2="272.30" stroke="#a9a9a9" stroke-width="0.8" />
<line x1="465.73" y1="235.30" x2="465.73" y2="272.30" stroke="#d8d8d8" stroke-width="0.6" />
<line x1="472.69" y1="235.30" x2="472.69" y2="272.30" stroke="#a9a9a9" stroke-width="0.8" />
<line x1="479.64" y1="235.30" x2="479.64" y2="272.30" stroke="#d8d8d8" stroke-width="0.6" />
<line x1="486.60" y1="235.30" x2="486.60" y2="272.30" stroke="#a9a9a9" stroke-width="0.8" />
<line x1="493.56" y1="235.30" x2="493.56" y2="272.30" stroke="#d8d8d8" stroke-width="0.6" />
<line x1="500.51" y1="235.30" x2="500.51" y2="272.30" stroke="#a9a9a9" stroke-width="0.8" />
<line x1="507.47" y1="235.30" x2="507.47" y2="272.30" stroke="#d8d8d8" stroke-width="0.6" />
<line x1="514.43" y1="235.30" x2="514.43" y2="272.30" stroke="#a9a9a9" stroke-width="0.8" />
<line x1="521.39" y1="235.30" x2="521.39" y2="272.30" stroke="#d8d8d8" stroke-width="0.6" />
<line x1="528.34" y1="235.30" x2="528.34" y2="272.30" stroke="#a9a9a9" stroke-width="0.8" />
<line x1="535.30" y1="235.30" x2="535.30" y2="272.30" stroke="#d8d8d8" stroke-width="0.6" />
<line x1="542.26" y1="235.30" x2="542.26" y2="272.30" stroke="#a9a9a9" stroke-width="0.8" />
<line x1="549.21" y1="235.30" x2="549.21" y2="272.30" stroke="#d8d8d8" stroke-width="0.6" />
<line x1="556.17" y1="235.30" x2="556.17" y2="272.30" stroke="#a9a9a9" stroke-width="0.8" />
<line x1="563.13" y1="235.30" x2="563.13" y2="272.30" stroke="#d8d8d8" stroke-width="0.6" />
<line x1="570.09" y1="235.30" x2="570.09" y2="272.30" stroke="#a9a9a9" stroke-width="0.8" />
<line x1="577.04" y1="235.30" x2="577.04" y2="272.30" stroke="#d8d8d8" stroke-width="0.6" />
<line x1="584.00" y1="235.30" x2="584.00" y2="272.30" stroke="#a9a9a9" stroke-width="0.8" />
<line x1="389.20" y1="272.30" x2="584.00" y2="272.30" stroke="#a9a9a9" stroke-width="0.8" />
<line x1="389.20" y1="266.13" x2="584.00" y2="266.13" stroke="#d8d8d8" stroke-width="0.5" />
<line x1="389.20" y1="259.97" x2="584.00" y2="259.97" stroke="#a9a9a9" stroke-width="0.8" />
<line x1="389.20" y1="253.80" x2="584.00" y2="253.80" stroke="#d8d8d8" stroke-width="0.5" />
<line x1="389.20" y1="247.63" x2="584.00" y2="247.63" stroke="#a9a9a9" stroke-width="0.8" />
<line x1="389.20" y1="241.47" x2="584.00" y2="241.47" stroke="#d8d8d8" stroke-width="0.5" />
<line x1="389.20" y1="235.30" x2="584.00" y2="235.30" stroke="#a9a9a9" stroke-width="0.8" />
<path d="M396.71,252.94 C402.44,253.57 419.42,255.71 431.08,256.76 C442.75,257.81 456.03,258.69 466.70,259.23 C477.37,259.76 486.21,259.97 495.09,259.97 C503.97,259.97 511.69,259.93 519.99,259.23 C528.30,258.53 536.55,257.50 544.90,255.77 C553.25,254.05 565.89,250.02 570.09,248.87" fill="none" stroke="#262462" stroke-width="1.75"/>
<rect x="389.20" y="235.30" width="194.80" height="37.00" fill="none" stroke="#2a2a2a" stroke-width="1.1"/>
<text transform="translate(386.60,274.60) scale(0.7,1)" font-size="6.8" text-anchor="end" font-weight="bold" fill="#333"  >1</text>
<line x1="387.70" y1="272.30" x2="389.20" y2="272.30" stroke="#2a2a2a" stroke-width="0.6" />
<text transform="translate(386.60,262.27) scale(0.7,1)" font-size="6.8" text-anchor="end" font-weight="bold" fill="#333"  >2</text>
<line x1="387.70" y1="259.97" x2="389.20" y2="259.97" stroke="#2a2a2a" stroke-width="0.6" />
<text transform="translate(386.60,249.93) scale(0.7,1)" font-size="6.8" text-anchor="end" font-weight="bold" fill="#333"  >3</text>
<line x1="387.70" y1="247.63" x2="389.20" y2="247.63" stroke="#2a2a2a" stroke-width="0.6" />
<text transform="translate(386.60,237.60) scale(0.7,1)" font-size="6.8" text-anchor="end" font-weight="bold" fill="#333"  >4</text>
<line x1="387.70" y1="235.30" x2="389.20" y2="235.30" stroke="#2a2a2a" stroke-width="0.6" />
<text transform="translate(389.20,280.20) scale(0.7,1)" font-size="6.5" text-anchor="middle" font-weight="bold" fill="#333"  >0</text>
<line x1="389.20" y1="272.30" x2="389.20" y2="273.80" stroke="#2a2a2a" stroke-width="0.6" />
<text transform="translate(403.11,280.20) scale(0.7,1)" font-size="6.5" text-anchor="middle" font-weight="bold" fill="#333"  >10</text>
<line x1="403.11" y1="272.30" x2="403.11" y2="273.80" stroke="#2a2a2a" stroke-width="0.6" />
<text transform="translate(417.03,280.20) scale(0.7,1)" font-size="6.5" text-anchor="middle" font-weight="bold" fill="#333"  >20</text>
<line x1="417.03" y1="272.30" x2="417.03" y2="273.80" stroke="#2a2a2a" stroke-width="0.6" />
<text transform="translate(430.94,280.20) scale(0.7,1)" font-size="6.5" text-anchor="middle" font-weight="bold" fill="#333"  >30</text>
<line x1="430.94" y1="272.30" x2="430.94" y2="273.80" stroke="#2a2a2a" stroke-width="0.6" />
<text transform="translate(444.86,280.20) scale(0.7,1)" font-size="6.5" text-anchor="middle" font-weight="bold" fill="#333"  >40</text>
<line x1="444.86" y1="272.30" x2="444.86" y2="273.80" stroke="#2a2a2a" stroke-width="0.6" />
<text transform="translate(458.77,280.20) scale(0.7,1)" font-size="6.5" text-anchor="middle" font-weight="bold" fill="#333"  >50</text>
<line x1="458.77" y1="272.30" x2="458.77" y2="273.80" stroke="#2a2a2a" stroke-width="0.6" />
<text transform="translate(472.69,280.20) scale(0.7,1)" font-size="6.5" text-anchor="middle" font-weight="bold" fill="#333"  >60</text>
<line x1="472.69" y1="272.30" x2="472.69" y2="273.80" stroke="#2a2a2a" stroke-width="0.6" />
<text transform="translate(486.60,280.20) scale(0.7,1)" font-size="6.5" text-anchor="middle" font-weight="bold" fill="#333"  >70</text>
<line x1="486.60" y1="272.30" x2="486.60" y2="273.80" stroke="#2a2a2a" stroke-width="0.6" />
<text transform="translate(500.51,280.20) scale(0.7,1)" font-size="6.5" text-anchor="middle" font-weight="bold" fill="#333"  >80</text>
<line x1="500.51" y1="272.30" x2="500.51" y2="273.80" stroke="#2a2a2a" stroke-width="0.6" />
<text transform="translate(514.43,280.20) scale(0.7,1)" font-size="6.5" text-anchor="middle" font-weight="bold" fill="#333"  >90</text>
<line x1="514.43" y1="272.30" x2="514.43" y2="273.80" stroke="#2a2a2a" stroke-width="0.6" />
<text transform="translate(528.34,280.20) scale(0.7,1)" font-size="6.5" text-anchor="middle" font-weight="bold" fill="#333"  >100</text>
<line x1="528.34" y1="272.30" x2="528.34" y2="273.80" stroke="#2a2a2a" stroke-width="0.6" />
<text transform="translate(542.26,280.20) scale(0.7,1)" font-size="6.5" text-anchor="middle" font-weight="bold" fill="#333"  >110</text>
<line x1="542.26" y1="272.30" x2="542.26" y2="273.80" stroke="#2a2a2a" stroke-width="0.6" />
<text transform="translate(556.17,280.20) scale(0.7,1)" font-size="6.5" text-anchor="middle" font-weight="bold" fill="#333"  >120</text>
<line x1="556.17" y1="272.30" x2="556.17" y2="273.80" stroke="#2a2a2a" stroke-width="0.6" />
<text transform="translate(570.09,280.20) scale(0.7,1)" font-size="6.5" text-anchor="middle" font-weight="bold" fill="#333"  >130</text>
<line x1="570.09" y1="272.30" x2="570.09" y2="273.80" stroke="#2a2a2a" stroke-width="0.6" />
<text transform="translate(584.00,280.20) scale(0.7,1)" font-size="6.5" text-anchor="middle" font-weight="bold" fill="#333"  >140</text>
<line x1="584.00" y1="272.30" x2="584.00" y2="273.80" stroke="#2a2a2a" stroke-width="0.6" />
<line x1="584.00" y1="265.84" x2="585.80" y2="265.84" stroke="#2a2a2a" stroke-width="0.6" />
<text transform="translate(586.60,267.84) scale(0.7,1)" font-size="5.7" text-anchor="start" font-weight="normal" fill="#555" stroke="#555" stroke-width="0.1" >5</text>
<line x1="584.00" y1="247.04" x2="585.80" y2="247.04" stroke="#2a2a2a" stroke-width="0.6" />
<text transform="translate(586.60,249.04) scale(0.7,1)" font-size="5.7" text-anchor="start" font-weight="normal" fill="#555" stroke="#555" stroke-width="0.1" >10</text>
<text transform="translate(585.80,238.60) scale(0.8,1)" font-size="5.0" text-anchor="start" font-weight="normal" fill="#222" stroke="#222" stroke-width="0.18" >фут</text>
<line x1="369.90" y1="235.30" x2="369.90" y2="272.30" stroke="#333" stroke-width="0.75" />
<text transform="translate(376.90,254.5) rotate(-90) scale(0.93,1)" font-size="6.1" text-anchor="middle" font-weight="bold" fill="#111" stroke="#111" stroke-width="0.2">ДКЗ (м)</text>
<rect x="389.2" y="287.5" width="194.8" height="68.9" fill="#fff"/>
<line x1="389.20" y1="287.50" x2="389.20" y2="356.40" stroke="#a9a9a9" stroke-width="0.8" />
<line x1="396.16" y1="287.50" x2="396.16" y2="356.40" stroke="#d8d8d8" stroke-width="0.6" />
<line x1="403.11" y1="287.50" x2="403.11" y2="356.40" stroke="#a9a9a9" stroke-width="0.8" />
<line x1="410.07" y1="287.50" x2="410.07" y2="356.40" stroke="#d8d8d8" stroke-width="0.6" />
<line x1="417.03" y1="287.50" x2="417.03" y2="356.40" stroke="#a9a9a9" stroke-width="0.8" />
<line x1="423.99" y1="287.50" x2="423.99" y2="356.40" stroke="#d8d8d8" stroke-width="0.6" />
<line x1="430.94" y1="287.50" x2="430.94" y2="356.40" stroke="#a9a9a9" stroke-width="0.8" />
<line x1="437.90" y1="287.50" x2="437.90" y2="356.40" stroke="#d8d8d8" stroke-width="0.6" />
<line x1="444.86" y1="287.50" x2="444.86" y2="356.40" stroke="#a9a9a9" stroke-width="0.8" />
<line x1="451.81" y1="287.50" x2="451.81" y2="356.40" stroke="#d8d8d8" stroke-width="0.6" />
<line x1="458.77" y1="287.50" x2="458.77" y2="356.40" stroke="#a9a9a9" stroke-width="0.8" />
<line x1="465.73" y1="287.50" x2="465.73" y2="356.40" stroke="#d8d8d8" stroke-width="0.6" />
<line x1="472.69" y1="287.50" x2="472.69" y2="356.40" stroke="#a9a9a9" stroke-width="0.8" />
<line x1="479.64" y1="287.50" x2="479.64" y2="356.40" stroke="#d8d8d8" stroke-width="0.6" />
<line x1="486.60" y1="287.50" x2="486.60" y2="356.40" stroke="#a9a9a9" stroke-width="0.8" />
<line x1="493.56" y1="287.50" x2="493.56" y2="356.40" stroke="#d8d8d8" stroke-width="0.6" />
<line x1="500.51" y1="287.50" x2="500.51" y2="356.40" stroke="#a9a9a9" stroke-width="0.8" />
<line x1="507.47" y1="287.50" x2="507.47" y2="356.40" stroke="#d8d8d8" stroke-width="0.6" />
<line x1="514.43" y1="287.50" x2="514.43" y2="356.40" stroke="#a9a9a9" stroke-width="0.8" />
<line x1="521.39" y1="287.50" x2="521.39" y2="356.40" stroke="#d8d8d8" stroke-width="0.6" />
<line x1="528.34" y1="287.50" x2="528.34" y2="356.40" stroke="#a9a9a9" stroke-width="0.8" />
<line x1="535.30" y1="287.50" x2="535.30" y2="356.40" stroke="#d8d8d8" stroke-width="0.6" />
<line x1="542.26" y1="287.50" x2="542.26" y2="356.40" stroke="#a9a9a9" stroke-width="0.8" />
<line x1="549.21" y1="287.50" x2="549.21" y2="356.40" stroke="#d8d8d8" stroke-width="0.6" />
<line x1="556.17" y1="287.50" x2="556.17" y2="356.40" stroke="#a9a9a9" stroke-width="0.8" />
<line x1="563.13" y1="287.50" x2="563.13" y2="356.40" stroke="#d8d8d8" stroke-width="0.6" />
<line x1="570.09" y1="287.50" x2="570.09" y2="356.40" stroke="#a9a9a9" stroke-width="0.8" />
<line x1="577.04" y1="287.50" x2="577.04" y2="356.40" stroke="#d8d8d8" stroke-width="0.6" />
<line x1="584.00" y1="287.50" x2="584.00" y2="356.40" stroke="#a9a9a9" stroke-width="0.8" />
<line x1="389.20" y1="356.40" x2="584.00" y2="356.40" stroke="#a9a9a9" stroke-width="0.8" />
<line x1="389.20" y1="347.79" x2="584.00" y2="347.79" stroke="#d8d8d8" stroke-width="0.5" />
<line x1="389.20" y1="339.17" x2="584.00" y2="339.17" stroke="#a9a9a9" stroke-width="0.8" />
<line x1="389.20" y1="330.56" x2="584.00" y2="330.56" stroke="#d8d8d8" stroke-width="0.5" />
<line x1="389.20" y1="321.95" x2="584.00" y2="321.95" stroke="#a9a9a9" stroke-width="0.8" />
<line x1="389.20" y1="313.34" x2="584.00" y2="313.34" stroke="#d8d8d8" stroke-width="0.5" />
<line x1="389.20" y1="304.73" x2="584.00" y2="304.73" stroke="#a9a9a9" stroke-width="0.8" />
<line x1="389.20" y1="296.11" x2="584.00" y2="296.11" stroke="#d8d8d8" stroke-width="0.5" />
<line x1="389.20" y1="287.50" x2="584.00" y2="287.50" stroke="#a9a9a9" stroke-width="0.8" />
<path d="M396.71,338.14 C402.44,336.53 419.42,331.57 431.08,328.50 C442.75,325.42 454.83,322.24 466.70,319.71 C478.58,317.18 490.47,315.12 502.32,313.34 C514.17,311.56 526.51,309.92 537.80,309.03 C549.10,308.14 564.71,308.17 570.09,308.00" fill="none" stroke="#262462" stroke-width="1.75"/>
<rect x="389.20" y="287.50" width="194.80" height="68.90" fill="none" stroke="#2a2a2a" stroke-width="1.1"/>
<text transform="translate(386.80,358.50) scale(0.7,1)" font-size="6.5" text-anchor="end" font-weight="bold" fill="#333"  >0.1</text>
<line x1="387.70" y1="356.40" x2="389.20" y2="356.40" stroke="#2a2a2a" stroke-width="0.6" />
<text transform="translate(386.80,341.27) scale(0.7,1)" font-size="6.5" text-anchor="end" font-weight="bold" fill="#333"  >0.2</text>
<line x1="387.70" y1="339.17" x2="389.20" y2="339.17" stroke="#2a2a2a" stroke-width="0.6" />
<text transform="translate(386.80,324.05) scale(0.7,1)" font-size="6.5" text-anchor="end" font-weight="bold" fill="#333"  >0.3</text>
<line x1="387.70" y1="321.95" x2="389.20" y2="321.95" stroke="#2a2a2a" stroke-width="0.6" />
<text transform="translate(386.80,306.82) scale(0.7,1)" font-size="6.5" text-anchor="end" font-weight="bold" fill="#333"  >0.4</text>
<line x1="387.70" y1="304.72" x2="389.20" y2="304.72" stroke="#2a2a2a" stroke-width="0.6" />
<text transform="translate(386.80,289.60) scale(0.7,1)" font-size="6.5" text-anchor="end" font-weight="bold" fill="#333"  >0.5</text>
<line x1="387.70" y1="287.50" x2="389.20" y2="287.50" stroke="#2a2a2a" stroke-width="0.6" />
<text transform="translate(389.20,364.20) scale(0.7,1)" font-size="6.5" text-anchor="middle" font-weight="bold" fill="#333"  >0</text>
<line x1="389.20" y1="356.40" x2="389.20" y2="358.00" stroke="#2a2a2a" stroke-width="0.6" />
<text transform="translate(403.11,364.20) scale(0.7,1)" font-size="6.5" text-anchor="middle" font-weight="bold" fill="#333"  >10</text>
<line x1="403.11" y1="356.40" x2="403.11" y2="358.00" stroke="#2a2a2a" stroke-width="0.6" />
<text transform="translate(417.03,364.20) scale(0.7,1)" font-size="6.5" text-anchor="middle" font-weight="bold" fill="#333"  >20</text>
<line x1="417.03" y1="356.40" x2="417.03" y2="358.00" stroke="#2a2a2a" stroke-width="0.6" />
<text transform="translate(430.94,364.20) scale(0.7,1)" font-size="6.5" text-anchor="middle" font-weight="bold" fill="#333"  >30</text>
<line x1="430.94" y1="356.40" x2="430.94" y2="358.00" stroke="#2a2a2a" stroke-width="0.6" />
<text transform="translate(444.86,364.20) scale(0.7,1)" font-size="6.5" text-anchor="middle" font-weight="bold" fill="#333"  >40</text>
<line x1="444.86" y1="356.40" x2="444.86" y2="358.00" stroke="#2a2a2a" stroke-width="0.6" />
<text transform="translate(458.77,364.20) scale(0.7,1)" font-size="6.5" text-anchor="middle" font-weight="bold" fill="#333"  >50</text>
<line x1="458.77" y1="356.40" x2="458.77" y2="358.00" stroke="#2a2a2a" stroke-width="0.6" />
<text transform="translate(472.69,364.20) scale(0.7,1)" font-size="6.5" text-anchor="middle" font-weight="bold" fill="#333"  >60</text>
<line x1="472.69" y1="356.40" x2="472.69" y2="358.00" stroke="#2a2a2a" stroke-width="0.6" />
<text transform="translate(486.60,364.20) scale(0.7,1)" font-size="6.5" text-anchor="middle" font-weight="bold" fill="#333"  >70</text>
<line x1="486.60" y1="356.40" x2="486.60" y2="358.00" stroke="#2a2a2a" stroke-width="0.6" />
<text transform="translate(500.51,364.20) scale(0.7,1)" font-size="6.5" text-anchor="middle" font-weight="bold" fill="#333"  >80</text>
<line x1="500.51" y1="356.40" x2="500.51" y2="358.00" stroke="#2a2a2a" stroke-width="0.6" />
<text transform="translate(514.43,364.20) scale(0.7,1)" font-size="6.5" text-anchor="middle" font-weight="bold" fill="#333"  >90</text>
<line x1="514.43" y1="356.40" x2="514.43" y2="358.00" stroke="#2a2a2a" stroke-width="0.6" />
<text transform="translate(528.34,364.20) scale(0.7,1)" font-size="6.5" text-anchor="middle" font-weight="bold" fill="#333"  >100</text>
<line x1="528.34" y1="356.40" x2="528.34" y2="358.00" stroke="#2a2a2a" stroke-width="0.6" />
<text transform="translate(542.26,364.20) scale(0.7,1)" font-size="6.5" text-anchor="middle" font-weight="bold" fill="#333"  >110</text>
<line x1="542.26" y1="356.40" x2="542.26" y2="358.00" stroke="#2a2a2a" stroke-width="0.6" />
<text transform="translate(556.17,364.20) scale(0.7,1)" font-size="6.5" text-anchor="middle" font-weight="bold" fill="#333"  >120</text>
<line x1="556.17" y1="356.40" x2="556.17" y2="358.00" stroke="#2a2a2a" stroke-width="0.6" />
<text transform="translate(570.09,364.20) scale(0.7,1)" font-size="6.5" text-anchor="middle" font-weight="bold" fill="#333"  >130</text>
<line x1="570.09" y1="356.40" x2="570.09" y2="358.00" stroke="#2a2a2a" stroke-width="0.6" />
<text transform="translate(584.00,364.20) scale(0.7,1)" font-size="6.5" text-anchor="middle" font-weight="bold" fill="#333"  >140</text>
<line x1="584.00" y1="356.40" x2="584.00" y2="358.00" stroke="#2a2a2a" stroke-width="0.6" />
<line x1="584.00" y1="347.94" x2="585.80" y2="347.94" stroke="#2a2a2a" stroke-width="0.6" />
<text transform="translate(586.60,349.94) scale(0.7,1)" font-size="5.7" text-anchor="start" font-weight="normal" fill="#555" stroke="#555" stroke-width="0.1" >0.2</text>
<line x1="584.00" y1="335.09" x2="585.80" y2="335.09" stroke="#2a2a2a" stroke-width="0.6" />
<text transform="translate(586.60,337.09) scale(0.7,1)" font-size="5.7" text-anchor="start" font-weight="normal" fill="#555" stroke="#555" stroke-width="0.1" >0.3</text>
<line x1="584.00" y1="322.25" x2="585.80" y2="322.25" stroke="#2a2a2a" stroke-width="0.6" />
<text transform="translate(586.60,324.25) scale(0.7,1)" font-size="5.7" text-anchor="start" font-weight="normal" fill="#555" stroke="#555" stroke-width="0.1" >0.4</text>
<line x1="584.00" y1="309.40" x2="585.80" y2="309.40" stroke="#2a2a2a" stroke-width="0.6" />
<text transform="translate(586.60,311.40) scale(0.7,1)" font-size="5.7" text-anchor="start" font-weight="normal" fill="#555" stroke="#555" stroke-width="0.1" >0.5</text>
<line x1="584.00" y1="296.56" x2="585.80" y2="296.56" stroke="#2a2a2a" stroke-width="0.6" />
<text transform="translate(586.60,298.56) scale(0.7,1)" font-size="5.7" text-anchor="start" font-weight="normal" fill="#555" stroke="#555" stroke-width="0.1" >0.6</text>
<text transform="translate(585.80,289.80) scale(0.8,1)" font-size="5.0" text-anchor="start" font-weight="normal" fill="#222" stroke="#222" stroke-width="0.18" >HP</text>
<line x1="369.90" y1="287.50" x2="369.90" y2="356.40" stroke="#333" stroke-width="0.75" />
<text transform="translate(376.90,322) rotate(-90) scale(0.93,1)" font-size="6.1" text-anchor="middle" font-weight="bold" fill="#111" stroke="#111" stroke-width="0.2">P2 ст. (кВт)</text>
<text transform="translate(483.90,370.9) scale(0.92,1)" font-size="6.4" text-anchor="middle" font-weight="bold" fill="#111" stroke="#111" stroke-width="0.2">Q (л/мин)</text>
<line x1="389.20" y1="374.90" x2="584.00" y2="374.90" stroke="#333" stroke-width="0.75" />
</svg>
<svg width="700" height="320" viewBox="0 380 700 320" style="top:380px">
<line x1="106.40" y1="414.60" x2="590.00" y2="414.60" stroke="#2b2b2b" stroke-width="1.3"/>
<line x1="106.40" y1="443.40" x2="353.00" y2="443.40" stroke="#2b2b2b" stroke-width="1.0"/>
<line x1="353.00" y1="443.40" x2="590.00" y2="443.40" stroke="#2b2b2b" stroke-width="0.9"/>
<line x1="106.40" y1="503.00" x2="590.00" y2="503.00" stroke="#2b2b2b" stroke-width="0.9"/>
<line x1="326.80" y1="429.00" x2="590.00" y2="429.00" stroke="#2b2b2b" stroke-width="0.8"/>
<line x1="106.40" y1="458.40" x2="298.60" y2="458.40" stroke="#4a4a4a" stroke-width="0.8"/>
<line x1="353.00" y1="458.40" x2="590.00" y2="458.40" stroke="#2b2b2b" stroke-width="0.8"/>
<line x1="106.40" y1="473.10" x2="298.60" y2="473.10" stroke="#4a4a4a" stroke-width="0.8"/>
<line x1="353.00" y1="473.10" x2="590.00" y2="473.10" stroke="#2b2b2b" stroke-width="0.8"/>
<line x1="106.40" y1="488.10" x2="298.60" y2="488.10" stroke="#4a4a4a" stroke-width="0.8"/>
<line x1="353.00" y1="488.10" x2="590.00" y2="488.10" stroke="#2b2b2b" stroke-width="0.8"/>
<line x1="172.00" y1="429.00" x2="172.00" y2="503.00" stroke="#555" stroke-width="0.8"/>
<line x1="236.00" y1="414.60" x2="236.00" y2="503.00" stroke="#2b2b2b" stroke-width="0.8"/>
<line x1="267.60" y1="429.00" x2="267.60" y2="503.00" stroke="#444" stroke-width="0.7"/>
<line x1="298.60" y1="429.00" x2="298.60" y2="503.00" stroke="#444" stroke-width="0.7"/>
<line x1="314.50" y1="414.60" x2="314.50" y2="503.00" stroke="#2b2b2b" stroke-width="0.9"/>
<line x1="353.40" y1="414.60" x2="353.40" y2="503.00" stroke="#2b2b2b" stroke-width="0.9"/>
<line x1="382.70" y1="414.60" x2="382.70" y2="503.00" stroke="#2b2b2b" stroke-width="0.7"/>
<line x1="412.50" y1="414.60" x2="412.50" y2="503.00" stroke="#2b2b2b" stroke-width="0.7"/>
<line x1="442.20" y1="414.60" x2="442.20" y2="503.00" stroke="#2b2b2b" stroke-width="0.7"/>
<line x1="471.30" y1="414.60" x2="471.30" y2="503.00" stroke="#2b2b2b" stroke-width="0.7"/>
<line x1="500.30" y1="414.60" x2="500.30" y2="503.00" stroke="#2b2b2b" stroke-width="0.7"/>
<line x1="529.50" y1="414.60" x2="529.50" y2="503.00" stroke="#2b2b2b" stroke-width="0.7"/>
<line x1="559.30" y1="414.60" x2="559.30" y2="503.00" stroke="#2b2b2b" stroke-width="0.7"/>
<line x1="106.40" y1="536.40" x2="590.00" y2="536.40" stroke="#2b2b2b" stroke-width="1.3"/>
<line x1="106.40" y1="566.30" x2="353.00" y2="566.30" stroke="#2b2b2b" stroke-width="1.0"/>
<line x1="353.00" y1="566.30" x2="590.00" y2="566.30" stroke="#2b2b2b" stroke-width="0.9"/>
<line x1="106.40" y1="640.10" x2="590.00" y2="640.10" stroke="#2b2b2b" stroke-width="0.9"/>
<line x1="325.80" y1="551.35" x2="590.00" y2="551.35" stroke="#2b2b2b" stroke-width="0.8"/>
<line x1="106.40" y1="581.30" x2="298.60" y2="581.30" stroke="#a4a4a4" stroke-width="1.3"/>
<line x1="353.00" y1="581.30" x2="590.00" y2="581.30" stroke="#9a9a9a" stroke-width="1.1"/>
<line x1="106.40" y1="595.60" x2="298.60" y2="595.60" stroke="#4a4a4a" stroke-width="0.8"/>
<line x1="353.00" y1="595.60" x2="590.00" y2="595.60" stroke="#2b2b2b" stroke-width="0.8"/>
<line x1="106.40" y1="610.40" x2="298.60" y2="610.40" stroke="#4a4a4a" stroke-width="0.8"/>
<line x1="353.00" y1="610.40" x2="590.00" y2="610.40" stroke="#2b2b2b" stroke-width="0.8"/>
<line x1="106.40" y1="625.40" x2="298.60" y2="625.40" stroke="#4a4a4a" stroke-width="0.8"/>
<line x1="353.00" y1="625.40" x2="590.00" y2="625.40" stroke="#2b2b2b" stroke-width="0.8"/>
<line x1="172.00" y1="566.20" x2="172.00" y2="640.10" stroke="#555" stroke-width="0.8"/>
<line x1="236.00" y1="536.40" x2="236.00" y2="640.10" stroke="#2b2b2b" stroke-width="0.8"/>
<line x1="267.60" y1="551.35" x2="267.60" y2="640.10" stroke="#444" stroke-width="0.7"/>
<line x1="298.60" y1="551.35" x2="298.60" y2="640.10" stroke="#444" stroke-width="0.7"/>
<line x1="314.50" y1="536.40" x2="314.50" y2="640.10" stroke="#2b2b2b" stroke-width="0.9"/>
<line x1="353.40" y1="536.40" x2="353.40" y2="640.10" stroke="#2b2b2b" stroke-width="0.9"/>
<line x1="376.65" y1="536.40" x2="376.65" y2="640.10" stroke="#2b2b2b" stroke-width="0.7"/>
<line x1="400.30" y1="536.40" x2="400.30" y2="640.10" stroke="#2b2b2b" stroke-width="0.7"/>
<line x1="423.95" y1="536.40" x2="423.95" y2="640.10" stroke="#2b2b2b" stroke-width="0.7"/>
<line x1="447.60" y1="536.40" x2="447.60" y2="640.10" stroke="#2b2b2b" stroke-width="0.7"/>
<line x1="471.25" y1="536.40" x2="471.25" y2="640.10" stroke="#2b2b2b" stroke-width="0.7"/>
<line x1="494.90" y1="536.40" x2="494.90" y2="640.10" stroke="#2b2b2b" stroke-width="0.7"/>
<line x1="518.55" y1="536.40" x2="518.55" y2="640.10" stroke="#2b2b2b" stroke-width="0.7"/>
<line x1="542.20" y1="536.40" x2="542.20" y2="640.10" stroke="#2b2b2b" stroke-width="0.7"/>
<line x1="565.85" y1="536.40" x2="565.85" y2="640.10" stroke="#2b2b2b" stroke-width="0.7"/>
</svg>
<span class="t" style="left:109.30px;top:14.97px;font-size:9.25px;font-weight:bold;color:#1c1c5c;">РАБОЧИЕ ХАРАКТЕРИСТИКИ</span>
<span class="t" style="left:452.30px;top:15.10px;font-size:9.1px;font-weight:bold;color:#1c1c5c;">50 Гц&nbsp; n= 2900 об/мин</span>
<span class="t" style="left:554.30px;top:15.18px;font-size:9.0px;font-weight:normal;color:#34346e;-webkit-text-stroke:0.18px #34346e;">HS= 0 м</span>
<span class="t" style="left:109.30px;top:37.66px;font-size:16px;font-weight:bold;color:#1c1c5c;">HT 3</span>
<span class="t" style="left:366.00px;top:37.66px;font-size:16px;font-weight:bold;color:#1c1c5c;">HT 5</span>
<span class="t" style="left:106.60px;top:390.76px;font-size:16px;font-weight:bold;color:#1c1c5c;">HT 3</span>
<span class="t" style="left:108.60px;top:511.16px;font-size:16px;font-weight:bold;color:#1c1c5c;">HT 5</span>
<span class="t" style="left:172.30px;top:418.36px;font-size:8.2px;font-weight:bold;color:#111;transform:translateX(-50%);">ТИП</span>
<span class="t" style="left:275.50px;top:418.32px;font-size:8.25px;font-weight:bold;color:#111;transform:translateX(-50%);">МОЩНОСТЬ (P<sub>2</sub>)</span>
<span class="t" style="left:109.00px;top:432.56px;font-size:8.2px;font-weight:bold;color:#111;">Однофазный</span>
<span class="t" style="left:174.30px;top:432.56px;font-size:8.2px;font-weight:bold;color:#111;">Трехфазный</span>
<span class="t" style="left:251.80px;top:432.56px;font-size:8.2px;font-weight:bold;color:#111;transform:translateX(-50%);">кВт</span>
<span class="t" style="left:283.20px;top:432.56px;font-size:8.2px;font-weight:bold;color:#111;transform:translateX(-50%);">л.с.</span>
<div class="tri" style="left:303.90px;top:432.80px"></div>
<span class="t" style="left:317.80px;top:425.04px;font-size:8.1px;font-weight:bold;color:#111;">Q</span>
<span class="t" style="left:328.60px;top:418.49px;font-size:7.1px;font-weight:normal;color:#222;-webkit-text-stroke:0.18px #222;">м<sup>3</sup>/ч</span>
<span class="t" style="left:328.60px;top:432.61px;font-size:7.2px;font-weight:normal;color:#222;-webkit-text-stroke:0.18px #222;">л/мин</span>
<span class="t" style="left:367.85px;top:419.31px;font-size:6.6px;font-weight:normal;color:#222;-webkit-text-stroke:0.18px #222;transform:translateX(-50%);">0</span>
<span class="t" style="left:367.85px;top:434.10px;font-size:6.5px;font-weight:bold;color:#222;transform:translateX(-50%);">0</span>
<span class="t" style="left:397.60px;top:419.31px;font-size:6.6px;font-weight:normal;color:#222;-webkit-text-stroke:0.18px #222;transform:translateX(-50%);">0,3</span>
<span class="t" style="left:397.60px;top:434.10px;font-size:6.5px;font-weight:bold;color:#222;transform:translateX(-50%);">5</span>
<span class="t" style="left:427.35px;top:419.31px;font-size:6.6px;font-weight:normal;color:#222;-webkit-text-stroke:0.18px #222;transform:translateX(-50%);">0,6</span>
<span class="t" style="left:427.35px;top:434.10px;font-size:6.5px;font-weight:bold;color:#222;transform:translateX(-50%);">10</span>
<span class="t" style="left:456.75px;top:419.31px;font-size:6.6px;font-weight:normal;color:#222;-webkit-text-stroke:0.18px #222;transform:translateX(-50%);">1,2</span>
<span class="t" style="left:456.75px;top:434.10px;font-size:6.5px;font-weight:bold;color:#222;transform:translateX(-50%);">20</span>
<span class="t" style="left:485.80px;top:419.31px;font-size:6.6px;font-weight:normal;color:#222;-webkit-text-stroke:0.18px #222;transform:translateX(-50%);">2,4</span>
<span class="t" style="left:485.80px;top:434.10px;font-size:6.5px;font-weight:bold;color:#222;transform:translateX(-50%);">40</span>
<span class="t" style="left:514.90px;top:419.31px;font-size:6.6px;font-weight:normal;color:#222;-webkit-text-stroke:0.18px #222;transform:translateX(-50%);">3,6</span>
<span class="t" style="left:514.90px;top:434.10px;font-size:6.5px;font-weight:bold;color:#222;transform:translateX(-50%);">60</span>
<span class="t" style="left:544.40px;top:419.31px;font-size:6.6px;font-weight:normal;color:#222;-webkit-text-stroke:0.18px #222;transform:translateX(-50%);">4,8</span>
<span class="t" style="left:544.40px;top:434.10px;font-size:6.5px;font-weight:bold;color:#222;transform:translateX(-50%);">80</span>
<span class="t" style="left:574.65px;top:419.31px;font-size:6.6px;font-weight:normal;color:#222;-webkit-text-stroke:0.18px #222;transform:translateX(-50%);">5,4</span>
<span class="t" style="left:574.65px;top:434.10px;font-size:6.5px;font-weight:bold;color:#222;transform:translateX(-50%);">90</span>
<span class="t" style="left:109.00px;top:448.79px;font-size:7.1px;font-weight:bold;color:#111;">HTm 3/4</span>
<span class="t" style="left:174.30px;top:448.79px;font-size:7.1px;font-weight:bold;color:#111;">HT 3/4</span>
<span class="t" style="left:251.80px;top:447.87px;font-size:7.6px;font-weight:normal;color:#222;-webkit-text-stroke:0.18px #222;transform:translateX(-50%);">0,75</span>
<span class="t" style="left:283.20px;top:447.87px;font-size:7.6px;font-weight:normal;color:#222;-webkit-text-stroke:0.18px #222;transform:translateX(-50%);">1</span>
<span class="t" style="left:367.85px;top:449.01px;font-size:6.6px;font-weight:normal;color:#222;-webkit-text-stroke:0.18px #222;transform:translateX(-50%);">64</span>
<span class="t" style="left:397.60px;top:449.01px;font-size:6.6px;font-weight:normal;color:#222;-webkit-text-stroke:0.18px #222;transform:translateX(-50%);">63</span>
<span class="t" style="left:427.35px;top:449.01px;font-size:6.6px;font-weight:normal;color:#222;-webkit-text-stroke:0.18px #222;transform:translateX(-50%);">61,5</span>
<span class="t" style="left:456.75px;top:449.01px;font-size:6.6px;font-weight:normal;color:#222;-webkit-text-stroke:0.18px #222;transform:translateX(-50%);">59</span>
<span class="t" style="left:485.80px;top:449.01px;font-size:6.6px;font-weight:normal;color:#222;-webkit-text-stroke:0.18px #222;transform:translateX(-50%);">53</span>
<span class="t" style="left:514.90px;top:449.01px;font-size:6.6px;font-weight:normal;color:#222;-webkit-text-stroke:0.18px #222;transform:translateX(-50%);">45,5</span>
<span class="t" style="left:544.40px;top:449.01px;font-size:6.6px;font-weight:normal;color:#222;-webkit-text-stroke:0.18px #222;transform:translateX(-50%);">36</span>
<span class="t" style="left:574.65px;top:449.01px;font-size:6.6px;font-weight:normal;color:#222;-webkit-text-stroke:0.18px #222;transform:translateX(-50%);">30,5</span>
<span class="t" style="left:109.00px;top:463.64px;font-size:7.1px;font-weight:bold;color:#111;">HTm 3/5</span>
<span class="t" style="left:174.30px;top:463.64px;font-size:7.1px;font-weight:bold;color:#111;">HT 3/5</span>
<span class="t" style="left:251.80px;top:462.72px;font-size:7.6px;font-weight:normal;color:#222;-webkit-text-stroke:0.18px #222;transform:translateX(-50%);">1,1</span>
<span class="t" style="left:283.20px;top:462.72px;font-size:7.6px;font-weight:normal;color:#222;-webkit-text-stroke:0.18px #222;transform:translateX(-50%);">1,5</span>
<span class="t" style="left:367.85px;top:463.86px;font-size:6.6px;font-weight:normal;color:#222;-webkit-text-stroke:0.18px #222;transform:translateX(-50%);">80</span>
<span class="t" style="left:397.60px;top:463.86px;font-size:6.6px;font-weight:normal;color:#222;-webkit-text-stroke:0.18px #222;transform:translateX(-50%);">79</span>
<span class="t" style="left:427.35px;top:463.86px;font-size:6.6px;font-weight:normal;color:#222;-webkit-text-stroke:0.18px #222;transform:translateX(-50%);">77</span>
<span class="t" style="left:456.75px;top:463.86px;font-size:6.6px;font-weight:normal;color:#222;-webkit-text-stroke:0.18px #222;transform:translateX(-50%);">74</span>
<span class="t" style="left:485.80px;top:463.86px;font-size:6.6px;font-weight:normal;color:#222;-webkit-text-stroke:0.18px #222;transform:translateX(-50%);">66,5</span>
<span class="t" style="left:514.90px;top:463.86px;font-size:6.6px;font-weight:normal;color:#222;-webkit-text-stroke:0.18px #222;transform:translateX(-50%);">57</span>
<span class="t" style="left:544.40px;top:463.86px;font-size:6.6px;font-weight:normal;color:#222;-webkit-text-stroke:0.18px #222;transform:translateX(-50%);">45</span>
<span class="t" style="left:574.65px;top:463.86px;font-size:6.6px;font-weight:normal;color:#222;-webkit-text-stroke:0.18px #222;transform:translateX(-50%);">38</span>
<span class="t" style="left:109.00px;top:478.49px;font-size:7.1px;font-weight:bold;color:#111;">HTm 3/6</span>
<span class="t" style="left:174.30px;top:478.49px;font-size:7.1px;font-weight:bold;color:#111;">HT 3/6</span>
<span class="t" style="left:251.80px;top:477.57px;font-size:7.6px;font-weight:normal;color:#222;-webkit-text-stroke:0.18px #222;transform:translateX(-50%);">1,5</span>
<span class="t" style="left:283.20px;top:477.57px;font-size:7.6px;font-weight:normal;color:#222;-webkit-text-stroke:0.18px #222;transform:translateX(-50%);">2</span>
<span class="t" style="left:367.85px;top:478.71px;font-size:6.6px;font-weight:normal;color:#222;-webkit-text-stroke:0.18px #222;transform:translateX(-50%);">96</span>
<span class="t" style="left:397.60px;top:478.71px;font-size:6.6px;font-weight:normal;color:#222;-webkit-text-stroke:0.18px #222;transform:translateX(-50%);">94</span>
<span class="t" style="left:427.35px;top:478.71px;font-size:6.6px;font-weight:normal;color:#222;-webkit-text-stroke:0.18px #222;transform:translateX(-50%);">92</span>
<span class="t" style="left:456.75px;top:478.71px;font-size:6.6px;font-weight:normal;color:#222;-webkit-text-stroke:0.18px #222;transform:translateX(-50%);">89</span>
<span class="t" style="left:485.80px;top:478.71px;font-size:6.6px;font-weight:normal;color:#222;-webkit-text-stroke:0.18px #222;transform:translateX(-50%);">80</span>
<span class="t" style="left:514.90px;top:478.71px;font-size:6.6px;font-weight:normal;color:#222;-webkit-text-stroke:0.18px #222;transform:translateX(-50%);">68,5</span>
<span class="t" style="left:544.40px;top:478.71px;font-size:6.6px;font-weight:normal;color:#222;-webkit-text-stroke:0.18px #222;transform:translateX(-50%);">54</span>
<span class="t" style="left:574.65px;top:478.71px;font-size:6.6px;font-weight:normal;color:#222;-webkit-text-stroke:0.18px #222;transform:translateX(-50%);">45,5</span>
<span class="t" style="left:109.00px;top:493.44px;font-size:7.1px;font-weight:bold;color:#111;">HTm 3/7</span>
<span class="t" style="left:174.30px;top:493.44px;font-size:7.1px;font-weight:bold;color:#111;">HT 3/7</span>
<span class="t" style="left:251.80px;top:492.52px;font-size:7.6px;font-weight:normal;color:#222;-webkit-text-stroke:0.18px #222;transform:translateX(-50%);">1,8</span>
<span class="t" style="left:283.20px;top:492.52px;font-size:7.6px;font-weight:normal;color:#222;-webkit-text-stroke:0.18px #222;transform:translateX(-50%);">2,5</span>
<span class="t" style="left:367.85px;top:493.66px;font-size:6.6px;font-weight:normal;color:#222;-webkit-text-stroke:0.18px #222;transform:translateX(-50%);">112</span>
<span class="t" style="left:397.60px;top:493.66px;font-size:6.6px;font-weight:normal;color:#222;-webkit-text-stroke:0.18px #222;transform:translateX(-50%);">110</span>
<span class="t" style="left:427.35px;top:493.66px;font-size:6.6px;font-weight:normal;color:#222;-webkit-text-stroke:0.18px #222;transform:translateX(-50%);">108</span>
<span class="t" style="left:456.75px;top:493.66px;font-size:6.6px;font-weight:normal;color:#222;-webkit-text-stroke:0.18px #222;transform:translateX(-50%);">103</span>
<span class="t" style="left:485.80px;top:493.66px;font-size:6.6px;font-weight:normal;color:#222;-webkit-text-stroke:0.18px #222;transform:translateX(-50%);">93</span>
<span class="t" style="left:514.90px;top:493.66px;font-size:6.6px;font-weight:normal;color:#222;-webkit-text-stroke:0.18px #222;transform:translateX(-50%);">80</span>
<span class="t" style="left:544.40px;top:493.66px;font-size:6.6px;font-weight:normal;color:#222;-webkit-text-stroke:0.18px #222;transform:translateX(-50%);">63</span>
<span class="t" style="left:574.65px;top:493.66px;font-size:6.6px;font-weight:normal;color:#222;-webkit-text-stroke:0.18px #222;transform:translateX(-50%);">53</span>
<span class="t" style="left:300.90px;top:469.34px;font-size:7.4px;font-weight:normal;color:#222;-webkit-text-stroke:0.18px #222;">IE3</span>
<span class="t" style="left:317.80px;top:469.24px;font-size:8.1px;font-weight:bold;color:#111;">H</span>
<span class="t" style="left:328.60px;top:469.87px;font-size:7.0px;font-weight:normal;color:#222;-webkit-text-stroke:0.18px #222;">метры</span>
<span class="t" style="left:172.30px;top:540.43px;font-size:8.2px;font-weight:bold;color:#111;transform:translateX(-50%);">ТИП</span>
<span class="t" style="left:275.50px;top:540.39px;font-size:8.25px;font-weight:bold;color:#111;transform:translateX(-50%);">МОЩНОСТЬ (P2)</span>
<span class="t" style="left:109.00px;top:555.18px;font-size:8.2px;font-weight:bold;color:#111;">Однофазный</span>
<span class="t" style="left:174.30px;top:555.18px;font-size:8.2px;font-weight:bold;color:#111;">Трехфазный</span>
<span class="t" style="left:251.80px;top:555.18px;font-size:8.2px;font-weight:bold;color:#111;transform:translateX(-50%);">кВт</span>
<span class="t" style="left:283.20px;top:555.18px;font-size:8.2px;font-weight:bold;color:#111;transform:translateX(-50%);">л.с.</span>
<div class="tri" style="left:303.90px;top:555.42px"></div>
<span class="t" style="left:316.80px;top:548.07px;font-size:7.3px;font-weight:bold;color:#111;">Q</span>
<span class="t" style="left:326.50px;top:540.56px;font-size:7.1px;font-weight:normal;color:#222;-webkit-text-stroke:0.18px #222;">м<sup>3</sup>/ч</span>
<span class="t" style="left:326.50px;top:555.23px;font-size:7.2px;font-weight:normal;color:#222;-webkit-text-stroke:0.18px #222;">л/мин</span>
<span class="t" style="left:364.82px;top:541.39px;font-size:6.6px;font-weight:normal;color:#222;-webkit-text-stroke:0.18px #222;transform:translateX(-50%);">0</span>
<span class="t" style="left:364.82px;top:556.72px;font-size:6.5px;font-weight:bold;color:#222;transform:translateX(-50%);">0</span>
<span class="t" style="left:388.48px;top:541.39px;font-size:6.6px;font-weight:normal;color:#222;-webkit-text-stroke:0.18px #222;transform:translateX(-50%);">0,3</span>
<span class="t" style="left:388.48px;top:556.72px;font-size:6.5px;font-weight:bold;color:#222;transform:translateX(-50%);">5</span>
<span class="t" style="left:412.12px;top:541.39px;font-size:6.6px;font-weight:normal;color:#222;-webkit-text-stroke:0.18px #222;transform:translateX(-50%);">0,6</span>
<span class="t" style="left:412.12px;top:556.72px;font-size:6.5px;font-weight:bold;color:#222;transform:translateX(-50%);">10</span>
<span class="t" style="left:435.77px;top:541.39px;font-size:6.6px;font-weight:normal;color:#222;-webkit-text-stroke:0.18px #222;transform:translateX(-50%);">1,2</span>
<span class="t" style="left:435.77px;top:556.72px;font-size:6.5px;font-weight:bold;color:#222;transform:translateX(-50%);">20</span>
<span class="t" style="left:459.43px;top:541.39px;font-size:6.6px;font-weight:normal;color:#222;-webkit-text-stroke:0.18px #222;transform:translateX(-50%);">2,4</span>
<span class="t" style="left:459.43px;top:556.72px;font-size:6.5px;font-weight:bold;color:#222;transform:translateX(-50%);">40</span>
<span class="t" style="left:483.07px;top:541.39px;font-size:6.6px;font-weight:normal;color:#222;-webkit-text-stroke:0.18px #222;transform:translateX(-50%);">3,6</span>
<span class="t" style="left:483.07px;top:556.72px;font-size:6.5px;font-weight:bold;color:#222;transform:translateX(-50%);">60</span>
<span class="t" style="left:506.72px;top:541.39px;font-size:6.6px;font-weight:normal;color:#222;-webkit-text-stroke:0.18px #222;transform:translateX(-50%);">4,8</span>
<span class="t" style="left:506.72px;top:556.72px;font-size:6.5px;font-weight:bold;color:#222;transform:translateX(-50%);">80</span>
<span class="t" style="left:530.38px;top:541.39px;font-size:6.6px;font-weight:normal;color:#222;-webkit-text-stroke:0.18px #222;transform:translateX(-50%);">5,4</span>
<span class="t" style="left:530.38px;top:556.72px;font-size:6.5px;font-weight:bold;color:#222;transform:translateX(-50%);">90</span>
<span class="t" style="left:554.03px;top:541.39px;font-size:6.6px;font-weight:normal;color:#222;-webkit-text-stroke:0.18px #222;transform:translateX(-50%);">6</span>
<span class="t" style="left:554.03px;top:556.72px;font-size:6.5px;font-weight:bold;color:#222;transform:translateX(-50%);">100</span>
<span class="t" style="left:577.67px;top:541.39px;font-size:6.6px;font-weight:normal;color:#222;-webkit-text-stroke:0.18px #222;transform:translateX(-50%);">7,8</span>
<span class="t" style="left:577.67px;top:556.72px;font-size:6.5px;font-weight:bold;color:#222;transform:translateX(-50%);">130</span>
<span class="t" style="left:109.00px;top:570.69px;font-size:7.1px;font-weight:bold;color:#111;">HTm 5/2</span>
<span class="t" style="left:174.30px;top:570.69px;font-size:7.1px;font-weight:bold;color:#111;">HT 5/2</span>
<span class="t" style="left:251.80px;top:569.77px;font-size:7.6px;font-weight:normal;color:#222;-webkit-text-stroke:0.18px #222;transform:translateX(-50%);">0,75</span>
<span class="t" style="left:283.20px;top:569.77px;font-size:7.6px;font-weight:normal;color:#222;-webkit-text-stroke:0.18px #222;transform:translateX(-50%);">1</span>
<span class="t" style="left:364.82px;top:570.91px;font-size:6.6px;font-weight:normal;color:#222;-webkit-text-stroke:0.18px #222;transform:translateX(-50%);">33</span>
<span class="t" style="left:388.48px;top:570.91px;font-size:6.6px;font-weight:normal;color:#222;-webkit-text-stroke:0.18px #222;transform:translateX(-50%);">33</span>
<span class="t" style="left:412.12px;top:570.91px;font-size:6.6px;font-weight:normal;color:#222;-webkit-text-stroke:0.18px #222;transform:translateX(-50%);">32,7</span>
<span class="t" style="left:435.77px;top:570.91px;font-size:6.6px;font-weight:normal;color:#222;-webkit-text-stroke:0.18px #222;transform:translateX(-50%);">32,3</span>
<span class="t" style="left:459.43px;top:570.91px;font-size:6.6px;font-weight:normal;color:#222;-webkit-text-stroke:0.18px #222;transform:translateX(-50%);">30,5</span>
<span class="t" style="left:483.07px;top:570.91px;font-size:6.6px;font-weight:normal;color:#222;-webkit-text-stroke:0.18px #222;transform:translateX(-50%);">28,5</span>
<span class="t" style="left:506.72px;top:570.91px;font-size:6.6px;font-weight:normal;color:#222;-webkit-text-stroke:0.18px #222;transform:translateX(-50%);">25,5</span>
<span class="t" style="left:530.38px;top:570.91px;font-size:6.6px;font-weight:normal;color:#222;-webkit-text-stroke:0.18px #222;transform:translateX(-50%);">24</span>
<span class="t" style="left:554.03px;top:570.91px;font-size:6.6px;font-weight:normal;color:#222;-webkit-text-stroke:0.18px #222;transform:translateX(-50%);">22,2</span>
<span class="t" style="left:577.67px;top:570.91px;font-size:6.6px;font-weight:normal;color:#222;-webkit-text-stroke:0.18px #222;transform:translateX(-50%);">16</span>
<span class="t" style="left:109.00px;top:585.34px;font-size:7.1px;font-weight:bold;color:#111;">HTm 5/3</span>
<span class="t" style="left:174.30px;top:585.34px;font-size:7.1px;font-weight:bold;color:#111;">HT 5/3</span>
<span class="t" style="left:251.80px;top:584.42px;font-size:7.6px;font-weight:normal;color:#222;-webkit-text-stroke:0.18px #222;transform:translateX(-50%);">1,1</span>
<span class="t" style="left:283.20px;top:584.42px;font-size:7.6px;font-weight:normal;color:#222;-webkit-text-stroke:0.18px #222;transform:translateX(-50%);">1,5</span>
<span class="t" style="left:364.82px;top:585.56px;font-size:6.6px;font-weight:normal;color:#222;-webkit-text-stroke:0.18px #222;transform:translateX(-50%);">49</span>
<span class="t" style="left:388.48px;top:585.56px;font-size:6.6px;font-weight:normal;color:#222;-webkit-text-stroke:0.18px #222;transform:translateX(-50%);">49</span>
<span class="t" style="left:412.12px;top:585.56px;font-size:6.6px;font-weight:normal;color:#222;-webkit-text-stroke:0.18px #222;transform:translateX(-50%);">48,5</span>
<span class="t" style="left:435.77px;top:585.56px;font-size:6.6px;font-weight:normal;color:#222;-webkit-text-stroke:0.18px #222;transform:translateX(-50%);">47,5</span>
<span class="t" style="left:459.43px;top:585.56px;font-size:6.6px;font-weight:normal;color:#222;-webkit-text-stroke:0.18px #222;transform:translateX(-50%);">45,5</span>
<span class="t" style="left:483.07px;top:585.56px;font-size:6.6px;font-weight:normal;color:#222;-webkit-text-stroke:0.18px #222;transform:translateX(-50%);">42</span>
<span class="t" style="left:506.72px;top:585.56px;font-size:6.6px;font-weight:normal;color:#222;-webkit-text-stroke:0.18px #222;transform:translateX(-50%);">37,5</span>
<span class="t" style="left:530.38px;top:585.56px;font-size:6.6px;font-weight:normal;color:#222;-webkit-text-stroke:0.18px #222;transform:translateX(-50%);">35</span>
<span class="t" style="left:554.03px;top:585.56px;font-size:6.6px;font-weight:normal;color:#222;-webkit-text-stroke:0.18px #222;transform:translateX(-50%);">32,5</span>
<span class="t" style="left:577.67px;top:585.56px;font-size:6.6px;font-weight:normal;color:#222;-webkit-text-stroke:0.18px #222;transform:translateX(-50%);">24</span>
<span class="t" style="left:109.00px;top:599.89px;font-size:7.1px;font-weight:bold;color:#111;">HTm 5/4</span>
<span class="t" style="left:174.30px;top:599.89px;font-size:7.1px;font-weight:bold;color:#111;">HT 5/4</span>
<span class="t" style="left:251.80px;top:598.97px;font-size:7.6px;font-weight:normal;color:#222;-webkit-text-stroke:0.18px #222;transform:translateX(-50%);">1,5</span>
<span class="t" style="left:283.20px;top:598.97px;font-size:7.6px;font-weight:normal;color:#222;-webkit-text-stroke:0.18px #222;transform:translateX(-50%);">2</span>
<span class="t" style="left:364.82px;top:600.11px;font-size:6.6px;font-weight:normal;color:#222;-webkit-text-stroke:0.18px #222;transform:translateX(-50%);">65</span>
<span class="t" style="left:388.48px;top:600.11px;font-size:6.6px;font-weight:normal;color:#222;-webkit-text-stroke:0.18px #222;transform:translateX(-50%);">65</span>
<span class="t" style="left:412.12px;top:600.11px;font-size:6.6px;font-weight:normal;color:#222;-webkit-text-stroke:0.18px #222;transform:translateX(-50%);">64,5</span>
<span class="t" style="left:435.77px;top:600.11px;font-size:6.6px;font-weight:normal;color:#222;-webkit-text-stroke:0.18px #222;transform:translateX(-50%);">63,5</span>
<span class="t" style="left:459.43px;top:600.11px;font-size:6.6px;font-weight:normal;color:#222;-webkit-text-stroke:0.18px #222;transform:translateX(-50%);">60,5</span>
<span class="t" style="left:483.07px;top:600.11px;font-size:6.6px;font-weight:normal;color:#222;-webkit-text-stroke:0.18px #222;transform:translateX(-50%);">56</span>
<span class="t" style="left:506.72px;top:600.11px;font-size:6.6px;font-weight:normal;color:#222;-webkit-text-stroke:0.18px #222;transform:translateX(-50%);">50,5</span>
<span class="t" style="left:530.38px;top:600.11px;font-size:6.6px;font-weight:normal;color:#222;-webkit-text-stroke:0.18px #222;transform:translateX(-50%);">47</span>
<span class="t" style="left:554.03px;top:600.11px;font-size:6.6px;font-weight:normal;color:#222;-webkit-text-stroke:0.18px #222;transform:translateX(-50%);">43,5</span>
<span class="t" style="left:577.67px;top:600.11px;font-size:6.6px;font-weight:normal;color:#222;-webkit-text-stroke:0.18px #222;transform:translateX(-50%);">32</span>
<span class="t" style="left:109.00px;top:614.79px;font-size:7.1px;font-weight:bold;color:#111;">HTm 5/5</span>
<span class="t" style="left:174.30px;top:614.79px;font-size:7.1px;font-weight:bold;color:#111;">HT 5/5</span>
<span class="t" style="left:251.80px;top:613.87px;font-size:7.6px;font-weight:normal;color:#222;-webkit-text-stroke:0.18px #222;transform:translateX(-50%);">1,8</span>
<span class="t" style="left:283.20px;top:613.87px;font-size:7.6px;font-weight:normal;color:#222;-webkit-text-stroke:0.18px #222;transform:translateX(-50%);">2,5</span>
<span class="t" style="left:364.82px;top:615.01px;font-size:6.6px;font-weight:normal;color:#222;-webkit-text-stroke:0.18px #222;transform:translateX(-50%);">81</span>
<span class="t" style="left:388.48px;top:615.01px;font-size:6.6px;font-weight:normal;color:#222;-webkit-text-stroke:0.18px #222;transform:translateX(-50%);">81</span>
<span class="t" style="left:412.12px;top:615.01px;font-size:6.6px;font-weight:normal;color:#222;-webkit-text-stroke:0.18px #222;transform:translateX(-50%);">81</span>
<span class="t" style="left:435.77px;top:615.01px;font-size:6.6px;font-weight:normal;color:#222;-webkit-text-stroke:0.18px #222;transform:translateX(-50%);">79</span>
<span class="t" style="left:459.43px;top:615.01px;font-size:6.6px;font-weight:normal;color:#222;-webkit-text-stroke:0.18px #222;transform:translateX(-50%);">76</span>
<span class="t" style="left:483.07px;top:615.01px;font-size:6.6px;font-weight:normal;color:#222;-webkit-text-stroke:0.18px #222;transform:translateX(-50%);">70</span>
<span class="t" style="left:506.72px;top:615.01px;font-size:6.6px;font-weight:normal;color:#222;-webkit-text-stroke:0.18px #222;transform:translateX(-50%);">63</span>
<span class="t" style="left:530.38px;top:615.01px;font-size:6.6px;font-weight:normal;color:#222;-webkit-text-stroke:0.18px #222;transform:translateX(-50%);">58,5</span>
<span class="t" style="left:554.03px;top:615.01px;font-size:6.6px;font-weight:normal;color:#222;-webkit-text-stroke:0.18px #222;transform:translateX(-50%);">54</span>
<span class="t" style="left:577.67px;top:615.01px;font-size:6.6px;font-weight:normal;color:#222;-webkit-text-stroke:0.18px #222;transform:translateX(-50%);">39</span>
<span class="t" style="left:109.00px;top:629.64px;font-size:7.1px;font-weight:bold;color:#111;">HTm 5/6</span>
<span class="t" style="left:174.30px;top:629.64px;font-size:7.1px;font-weight:bold;color:#111;">HT 5/6</span>
<span class="t" style="left:251.80px;top:628.72px;font-size:7.6px;font-weight:normal;color:#222;-webkit-text-stroke:0.18px #222;transform:translateX(-50%);">2,2</span>
<span class="t" style="left:283.20px;top:628.72px;font-size:7.6px;font-weight:normal;color:#222;-webkit-text-stroke:0.18px #222;transform:translateX(-50%);">3</span>
<span class="t" style="left:364.82px;top:629.86px;font-size:6.6px;font-weight:normal;color:#222;-webkit-text-stroke:0.18px #222;transform:translateX(-50%);">98</span>
<span class="t" style="left:388.48px;top:629.86px;font-size:6.6px;font-weight:normal;color:#222;-webkit-text-stroke:0.18px #222;transform:translateX(-50%);">97</span>
<span class="t" style="left:412.12px;top:629.86px;font-size:6.6px;font-weight:normal;color:#222;-webkit-text-stroke:0.18px #222;transform:translateX(-50%);">97</span>
<span class="t" style="left:435.77px;top:629.86px;font-size:6.6px;font-weight:normal;color:#222;-webkit-text-stroke:0.18px #222;transform:translateX(-50%);">95</span>
<span class="t" style="left:459.43px;top:629.86px;font-size:6.6px;font-weight:normal;color:#222;-webkit-text-stroke:0.18px #222;transform:translateX(-50%);">91</span>
<span class="t" style="left:483.07px;top:629.86px;font-size:6.6px;font-weight:normal;color:#222;-webkit-text-stroke:0.18px #222;transform:translateX(-50%);">84</span>
<span class="t" style="left:506.72px;top:629.86px;font-size:6.6px;font-weight:normal;color:#222;-webkit-text-stroke:0.18px #222;transform:translateX(-50%);">75</span>
<span class="t" style="left:530.38px;top:629.86px;font-size:6.6px;font-weight:normal;color:#222;-webkit-text-stroke:0.18px #222;transform:translateX(-50%);">70</span>
<span class="t" style="left:554.03px;top:629.86px;font-size:6.6px;font-weight:normal;color:#222;-webkit-text-stroke:0.18px #222;transform:translateX(-50%);">65</span>
<span class="t" style="left:577.67px;top:629.86px;font-size:6.6px;font-weight:normal;color:#222;-webkit-text-stroke:0.18px #222;transform:translateX(-50%);">47</span>
<span class="t" style="left:300.90px;top:599.34px;font-size:7.4px;font-weight:normal;color:#222;-webkit-text-stroke:0.18px #222;">IE3</span>
<span class="t" style="left:316.80px;top:599.92px;font-size:7.3px;font-weight:bold;color:#111;">H</span>
<span class="t" style="left:326.50px;top:599.87px;font-size:7.0px;font-weight:normal;color:#222;-webkit-text-stroke:0.18px #222;">метры</span>
<span class="t" style="left:109.30px;top:653.38px;font-size:6.4px;font-weight:bold;color:#111;">Q =</span>
<span class="t" style="left:128.00px;top:649.18px;font-size:6.4px;font-weight:normal;color:#222;-webkit-text-stroke:0.18px #222;">Производительность <b>H</b> = Общий манометрический напор <b>HS</b> =</span>
<span class="t" style="left:128.00px;top:657.18px;font-size:6.4px;font-weight:normal;color:#222;-webkit-text-stroke:0.18px #222;">Высота всасывания</span>
<span class="t" style="left:588.00px;top:649.18px;font-size:6.4px;font-weight:normal;color:#222;-webkit-text-stroke:0.18px #222;transform:translateX(-100%);">Допустимое отклонение характеристик насосов соответствует классу 3B согласно EN</span>
<span class="t" style="left:588.00px;top:657.18px;font-size:6.4px;font-weight:normal;color:#222;-webkit-text-stroke:0.18px #222;transform:translateX(-100%);">ISO 9906</span>
<div class="tri s" style="left:109.6px;top:676.0px"></div>
<span class="t" style="left:131.80px;top:675.28px;font-size:6.4px;font-weight:normal;color:#222;-webkit-text-stroke:0.18px #222;">Класс эффективности трехфазного двигателя (IEC 60034-30-1)</span>
</div></body></html>
